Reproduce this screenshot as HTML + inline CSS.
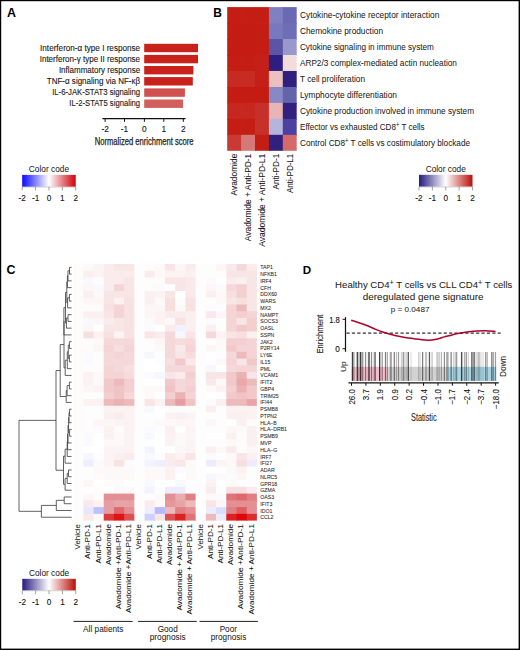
<!DOCTYPE html>
<html><head><meta charset="utf-8"><style>html,body{margin:0;padding:0;background:#fff;width:520px;height:650px;overflow:hidden}</style></head><body>
<svg width="520" height="650" viewBox="0 0 520 650" style="display:block;font-family:'Liberation Sans', sans-serif">
<defs>
<linearGradient id="gA" x1="0" x2="1" y1="0" y2="0"><stop offset="0" stop-color="#0a0aff"/><stop offset="0.5" stop-color="#ffffff"/><stop offset="1" stop-color="#d00008"/></linearGradient>
<linearGradient id="gB" x1="0" x2="1" y1="0" y2="0"><stop offset="0" stop-color="#251a80"/><stop offset="0.5" stop-color="#ffffff"/><stop offset="1" stop-color="#b80f0a"/></linearGradient>
</defs>
<rect x="0" y="0" width="520" height="650" fill="#fff"/>
<text x="7.00" y="17.00" font-size="12.4" font-weight="bold" fill="#000" >A</text>
<text x="213.30" y="16.90" font-size="12.0" font-weight="bold" fill="#000" >B</text>
<text x="6.50" y="273.80" font-size="12.4" font-weight="bold" fill="#000" >C</text>
<text x="302.80" y="273.80" font-size="11.6" font-weight="bold" fill="#000" >D</text>
<text x="140.10" y="50.50" font-size="8.3" text-anchor="end" textLength="100.00" lengthAdjust="spacingAndGlyphs" fill="#1a1a1a" stroke="#1a1a1a" stroke-width="0.12" >Interferon-α type I response</text>
<rect x="144.2" y="43.8" width="53.80" height="8.4" fill="#c8221b"/>
<text x="140.10" y="61.60" font-size="8.3" text-anchor="end" textLength="100.40" lengthAdjust="spacingAndGlyphs" fill="#1a1a1a" stroke="#1a1a1a" stroke-width="0.12" >Interferon-γ type II response</text>
<rect x="144.2" y="54.9" width="53.80" height="8.4" fill="#c8221b"/>
<text x="140.10" y="72.70" font-size="8.3" text-anchor="end" textLength="81.20" lengthAdjust="spacingAndGlyphs" fill="#1a1a1a" stroke="#1a1a1a" stroke-width="0.12" >Inflammatory response</text>
<rect x="144.2" y="66.0" width="49.20" height="8.4" fill="#c8221b"/>
<text x="140.10" y="83.80" font-size="8.3" text-anchor="end" textLength="93.30" lengthAdjust="spacingAndGlyphs" fill="#1a1a1a" stroke="#1a1a1a" stroke-width="0.12" >TNF-α signaling via NF-κβ</text>
<rect x="144.2" y="77.1" width="48.60" height="8.4" fill="#c8221b"/>
<text x="140.10" y="95.10" font-size="8.3" text-anchor="end" textLength="87.90" lengthAdjust="spacingAndGlyphs" fill="#1a1a1a" stroke="#1a1a1a" stroke-width="0.12" >IL-6-JAK-STAT3 signaling</text>
<rect x="144.2" y="88.4" width="40.70" height="8.4" fill="#d0514f"/>
<text x="140.10" y="106.20" font-size="8.3" text-anchor="end" textLength="70.80" lengthAdjust="spacingAndGlyphs" fill="#1a1a1a" stroke="#1a1a1a" stroke-width="0.12" >IL-2-STAT5 signaling</text>
<rect x="144.2" y="99.5" width="38.90" height="8.4" fill="#d35e5e"/>
<line x1="102.4" y1="118.7" x2="185.6" y2="118.7" stroke="#111" stroke-width="1.2"/>
<line x1="105.1" y1="118.7" x2="105.1" y2="121.8" stroke="#111" stroke-width="1"/>
<text x="105.10" y="131.60" font-size="8.3" text-anchor="middle" fill="#111" stroke="#111" stroke-width="0.1" >-2</text>
<line x1="124.5" y1="118.7" x2="124.5" y2="121.8" stroke="#111" stroke-width="1"/>
<text x="124.50" y="131.60" font-size="8.3" text-anchor="middle" fill="#111" stroke="#111" stroke-width="0.1" >-1</text>
<line x1="144.4" y1="118.7" x2="144.4" y2="121.8" stroke="#111" stroke-width="1"/>
<text x="144.40" y="131.60" font-size="8.3" text-anchor="middle" fill="#111" stroke="#111" stroke-width="0.1" >0</text>
<line x1="163.8" y1="118.7" x2="163.8" y2="121.8" stroke="#111" stroke-width="1"/>
<text x="163.80" y="131.60" font-size="8.3" text-anchor="middle" fill="#111" stroke="#111" stroke-width="0.1" >1</text>
<line x1="183.3" y1="118.7" x2="183.3" y2="121.8" stroke="#111" stroke-width="1"/>
<text x="183.30" y="131.60" font-size="8.3" text-anchor="middle" fill="#111" stroke="#111" stroke-width="0.1" >2</text>
<text x="144.15" y="145.20" font-size="10.0" text-anchor="middle" textLength="98.90" lengthAdjust="spacingAndGlyphs" fill="#222" stroke="#222" stroke-width="0.25" >Normalized enrichment score</text>
<rect x="22.2" y="174.9" width="53.5" height="11.900000000000006" fill="url(#gA)"/>
<line x1="22.2" y1="187.10000000000002" x2="75.7" y2="187.10000000000002" stroke="#bbb" stroke-width="0.6"/>
<line x1="22.20" y1="186.8" x2="22.20" y2="190.60000000000002" stroke="#666" stroke-width="0.6"/>
<line x1="35.58" y1="186.8" x2="35.58" y2="190.60000000000002" stroke="#666" stroke-width="0.6"/>
<line x1="48.95" y1="186.8" x2="48.95" y2="190.60000000000002" stroke="#666" stroke-width="0.6"/>
<line x1="62.33" y1="186.8" x2="62.33" y2="190.60000000000002" stroke="#666" stroke-width="0.6"/>
<line x1="75.70" y1="186.8" x2="75.70" y2="190.60000000000002" stroke="#666" stroke-width="0.6"/>
<text x="48.95" y="172.20" font-size="8.6" text-anchor="middle" textLength="40.20" lengthAdjust="spacingAndGlyphs" fill="#222" stroke="#222" stroke-width="0.04" >Color code</text>
<text x="22.20" y="200.80" font-size="8.2" text-anchor="middle" fill="#111" stroke="#111" stroke-width="0.1" >-2</text>
<text x="35.58" y="200.80" font-size="8.2" text-anchor="middle" fill="#111" stroke="#111" stroke-width="0.1" >-1</text>
<text x="48.95" y="200.80" font-size="8.2" text-anchor="middle" fill="#111" stroke="#111" stroke-width="0.1" >0</text>
<text x="62.33" y="200.80" font-size="8.2" text-anchor="middle" fill="#111" stroke="#111" stroke-width="0.1" >1</text>
<text x="75.70" y="200.80" font-size="8.2" text-anchor="middle" fill="#111" stroke="#111" stroke-width="0.1" >2</text>
<rect x="227.20" y="7.10" width="14.70" height="16.77" fill="#c41e14"/>
<rect x="241.10" y="7.10" width="14.70" height="16.77" fill="#c41e14"/>
<rect x="255.00" y="7.10" width="14.70" height="16.77" fill="#c41e14"/>
<rect x="268.90" y="7.10" width="14.70" height="16.77" fill="#8080c0"/>
<rect x="282.80" y="7.10" width="13.90" height="16.77" fill="#6a6ab4"/>
<rect x="227.20" y="23.07" width="14.70" height="16.77" fill="#c41c12"/>
<rect x="241.10" y="23.07" width="14.70" height="16.77" fill="#c41c12"/>
<rect x="255.00" y="23.07" width="14.70" height="16.77" fill="#c41e14"/>
<rect x="268.90" y="23.07" width="14.70" height="16.77" fill="#7878be"/>
<rect x="282.80" y="23.07" width="13.90" height="16.77" fill="#6e6eb6"/>
<rect x="227.20" y="39.03" width="14.70" height="16.77" fill="#c41c12"/>
<rect x="241.10" y="39.03" width="14.70" height="16.77" fill="#c41c12"/>
<rect x="255.00" y="39.03" width="14.70" height="16.77" fill="#c41e14"/>
<rect x="268.90" y="39.03" width="14.70" height="16.77" fill="#5c54a4"/>
<rect x="282.80" y="39.03" width="13.90" height="16.77" fill="#9898cc"/>
<rect x="227.20" y="55.00" width="14.70" height="16.77" fill="#c41e14"/>
<rect x="241.10" y="55.00" width="14.70" height="16.77" fill="#c41e14"/>
<rect x="255.00" y="55.00" width="14.70" height="16.77" fill="#c42018"/>
<rect x="268.90" y="55.00" width="14.70" height="16.77" fill="#2e1e82"/>
<rect x="282.80" y="55.00" width="13.90" height="16.77" fill="#f2dcdc"/>
<rect x="227.20" y="70.97" width="14.70" height="16.77" fill="#c62a20"/>
<rect x="241.10" y="70.97" width="14.70" height="16.77" fill="#c62c22"/>
<rect x="255.00" y="70.97" width="14.70" height="16.77" fill="#c42018"/>
<rect x="268.90" y="70.97" width="14.70" height="16.77" fill="#ecc0be"/>
<rect x="282.80" y="70.97" width="13.90" height="16.77" fill="#30207e"/>
<rect x="227.20" y="86.93" width="14.70" height="16.77" fill="#c41c12"/>
<rect x="241.10" y="86.93" width="14.70" height="16.77" fill="#c41c12"/>
<rect x="255.00" y="86.93" width="14.70" height="16.77" fill="#c41c12"/>
<rect x="268.90" y="86.93" width="14.70" height="16.77" fill="#8888c4"/>
<rect x="282.80" y="86.93" width="13.90" height="16.77" fill="#6464aa"/>
<rect x="227.20" y="102.90" width="14.70" height="16.77" fill="#c62820"/>
<rect x="241.10" y="102.90" width="14.70" height="16.77" fill="#c62820"/>
<rect x="255.00" y="102.90" width="14.70" height="16.77" fill="#c6302a"/>
<rect x="268.90" y="102.90" width="14.70" height="16.77" fill="#e8b4b4"/>
<rect x="282.80" y="102.90" width="13.90" height="16.77" fill="#32207e"/>
<rect x="227.20" y="118.87" width="14.70" height="16.77" fill="#c41e14"/>
<rect x="241.10" y="118.87" width="14.70" height="16.77" fill="#c41e14"/>
<rect x="255.00" y="118.87" width="14.70" height="16.77" fill="#c8302a"/>
<rect x="268.90" y="118.87" width="14.70" height="16.77" fill="#b4b4dc"/>
<rect x="282.80" y="118.87" width="13.90" height="16.77" fill="#4c40a0"/>
<rect x="227.20" y="134.83" width="14.70" height="15.97" fill="#ca3a34"/>
<rect x="241.10" y="134.83" width="14.70" height="15.97" fill="#d47878"/>
<rect x="255.00" y="134.83" width="14.70" height="15.97" fill="#c41e14"/>
<rect x="268.90" y="134.83" width="14.70" height="15.97" fill="#32207e"/>
<rect x="282.80" y="134.83" width="13.90" height="15.97" fill="#d46a6a"/>
<text x="300.00" y="18.08" font-size="9.0" textLength="139.30" lengthAdjust="spacingAndGlyphs" fill="#1a1a1a" stroke="#1a1a1a" stroke-width="0.04" >Cytokine-cytokine receptor interaction</text>
<text x="300.00" y="34.05" font-size="9.0" textLength="83.00" lengthAdjust="spacingAndGlyphs" fill="#1a1a1a" stroke="#1a1a1a" stroke-width="0.04" >Chemokine production</text>
<text x="300.00" y="50.02" font-size="9.0" textLength="133.80" lengthAdjust="spacingAndGlyphs" fill="#1a1a1a" stroke="#1a1a1a" stroke-width="0.04" >Cytokine signaling in immune system</text>
<text x="300.00" y="65.98" font-size="9.0" textLength="156.90" lengthAdjust="spacingAndGlyphs" fill="#1a1a1a" stroke="#1a1a1a" stroke-width="0.04" >ARP2/3 complex-mediated actin nucleation</text>
<text x="300.00" y="81.95" font-size="9.0" textLength="65.00" lengthAdjust="spacingAndGlyphs" fill="#1a1a1a" stroke="#1a1a1a" stroke-width="0.04" >T cell proliferation</text>
<text x="300.00" y="97.92" font-size="9.0" textLength="97.00" lengthAdjust="spacingAndGlyphs" fill="#1a1a1a" stroke="#1a1a1a" stroke-width="0.04" >Lymphocyte differentiation</text>
<text x="300.00" y="113.88" font-size="9.0" textLength="174.00" lengthAdjust="spacingAndGlyphs" fill="#1a1a1a" stroke="#1a1a1a" stroke-width="0.04" >Cytokine production involved in immune system</text>
<text x="300" y="129.85" font-size="9.0" fill="#1a1a1a" stroke="#1a1a1a" stroke-width="0.04" textLength="124.60" lengthAdjust="spacingAndGlyphs">Effector vs exhausted CD8<tspan font-size="6.5" dy="-3.2">+</tspan><tspan dy="3.2"> T cells</tspan></text>
<text x="300" y="145.82" font-size="9.0" fill="#1a1a1a" stroke="#1a1a1a" stroke-width="0.04" textLength="170.00" lengthAdjust="spacingAndGlyphs">Control CD8<tspan font-size="6.5" dy="-3.2">+</tspan><tspan dy="3.2"> T cells vs costimulatory blockade</tspan></text>
<text transform="translate(237.05,153.70) rotate(-90)" font-size="8.2" text-anchor="end" textLength="41.70" lengthAdjust="spacingAndGlyphs" fill="#111" stroke="#111" stroke-width="0.04" >Avadomide</text>
<text transform="translate(250.95,153.70) rotate(-90)" font-size="8.2" text-anchor="end" textLength="87.50" lengthAdjust="spacingAndGlyphs" fill="#111" stroke="#111" stroke-width="0.04" >Avadomide + Anti-PD-1</text>
<text transform="translate(264.85,153.70) rotate(-90)" font-size="8.2" text-anchor="end" textLength="93.00" lengthAdjust="spacingAndGlyphs" fill="#111" stroke="#111" stroke-width="0.04" >Avadomide + Anti-PD-L1</text>
<text transform="translate(278.75,153.70) rotate(-90)" font-size="8.2" text-anchor="end" textLength="35.90" lengthAdjust="spacingAndGlyphs" fill="#111" stroke="#111" stroke-width="0.04" >Anti-PD-1</text>
<text transform="translate(292.65,153.70) rotate(-90)" font-size="8.2" text-anchor="end" textLength="39.30" lengthAdjust="spacingAndGlyphs" fill="#111" stroke="#111" stroke-width="0.04" >Anti-PD-L1</text>
<rect x="419.0" y="174.8" width="53.5" height="11.899999999999977" fill="url(#gB)"/>
<line x1="419.0" y1="187.0" x2="472.5" y2="187.0" stroke="#bbb" stroke-width="0.6"/>
<line x1="419.00" y1="186.7" x2="419.00" y2="190.5" stroke="#666" stroke-width="0.6"/>
<line x1="432.38" y1="186.7" x2="432.38" y2="190.5" stroke="#666" stroke-width="0.6"/>
<line x1="445.75" y1="186.7" x2="445.75" y2="190.5" stroke="#666" stroke-width="0.6"/>
<line x1="459.12" y1="186.7" x2="459.12" y2="190.5" stroke="#666" stroke-width="0.6"/>
<line x1="472.50" y1="186.7" x2="472.50" y2="190.5" stroke="#666" stroke-width="0.6"/>
<text x="445.75" y="172.20" font-size="8.6" text-anchor="middle" textLength="40.20" lengthAdjust="spacingAndGlyphs" fill="#222" stroke="#222" stroke-width="0.04" >Color code</text>
<text x="419.00" y="201.00" font-size="8.2" text-anchor="middle" fill="#111" stroke="#111" stroke-width="0.1" >-2</text>
<text x="432.38" y="201.00" font-size="8.2" text-anchor="middle" fill="#111" stroke="#111" stroke-width="0.1" >-1</text>
<text x="445.75" y="201.00" font-size="8.2" text-anchor="middle" fill="#111" stroke="#111" stroke-width="0.1" >0</text>
<text x="459.12" y="201.00" font-size="8.2" text-anchor="middle" fill="#111" stroke="#111" stroke-width="0.1" >1</text>
<text x="472.50" y="201.00" font-size="8.2" text-anchor="middle" fill="#111" stroke="#111" stroke-width="0.1" >2</text>
<rect x="73.10" y="264.00" width="11.01" height="7.55" fill="#fefbfb"/>
<rect x="83.31" y="264.00" width="11.01" height="7.55" fill="#fdf9f9"/>
<rect x="93.52" y="264.00" width="11.01" height="7.55" fill="#fcf4f4"/>
<rect x="103.73" y="264.00" width="11.01" height="7.55" fill="#faecec"/>
<rect x="113.94" y="264.00" width="11.01" height="7.55" fill="#f8e5e6"/>
<rect x="124.16" y="264.00" width="11.01" height="7.55" fill="#f8e5e6"/>
<rect x="73.10" y="270.75" width="11.01" height="7.55" fill="#fefbfb"/>
<rect x="83.31" y="270.75" width="11.01" height="7.55" fill="#fbf0f0"/>
<rect x="93.52" y="270.75" width="11.01" height="7.55" fill="#fcf4f4"/>
<rect x="103.73" y="270.75" width="11.01" height="7.55" fill="#faecec"/>
<rect x="113.94" y="270.75" width="11.01" height="7.55" fill="#faecec"/>
<rect x="124.16" y="270.75" width="11.01" height="7.55" fill="#faecec"/>
<rect x="73.10" y="277.51" width="11.01" height="7.55" fill="#fefbfb"/>
<rect x="83.31" y="277.51" width="11.01" height="7.55" fill="#f8f8ff"/>
<rect x="93.52" y="277.51" width="11.01" height="7.55" fill="#fefdfd"/>
<rect x="103.73" y="277.51" width="11.01" height="7.55" fill="#faecec"/>
<rect x="113.94" y="277.51" width="11.01" height="7.55" fill="#faecec"/>
<rect x="124.16" y="277.51" width="11.01" height="7.55" fill="#f8e5e6"/>
<rect x="73.10" y="284.26" width="11.01" height="7.55" fill="#fefbfb"/>
<rect x="83.31" y="284.26" width="11.01" height="7.55" fill="#fdf6f7"/>
<rect x="93.52" y="284.26" width="11.01" height="7.55" fill="#f8f8ff"/>
<rect x="103.73" y="284.26" width="11.01" height="7.55" fill="#faecec"/>
<rect x="113.94" y="284.26" width="11.01" height="7.55" fill="#f4d4d5"/>
<rect x="124.16" y="284.26" width="11.01" height="7.55" fill="#f8e5e6"/>
<rect x="73.10" y="291.01" width="11.01" height="7.55" fill="#fefbfb"/>
<rect x="83.31" y="291.01" width="11.01" height="7.55" fill="#fbf0f0"/>
<rect x="93.52" y="291.01" width="11.01" height="7.55" fill="#fdf9f9"/>
<rect x="103.73" y="291.01" width="11.01" height="7.55" fill="#f8e5e6"/>
<rect x="113.94" y="291.01" width="11.01" height="7.55" fill="#f8e5e6"/>
<rect x="124.16" y="291.01" width="11.01" height="7.55" fill="#f8e5e6"/>
<rect x="73.10" y="297.76" width="11.01" height="7.55" fill="#fefbfb"/>
<rect x="83.31" y="297.76" width="11.01" height="7.55" fill="#fdf6f7"/>
<rect x="93.52" y="297.76" width="11.01" height="7.55" fill="#fdf6f7"/>
<rect x="103.73" y="297.76" width="11.01" height="7.55" fill="#f8e5e6"/>
<rect x="113.94" y="297.76" width="11.01" height="7.55" fill="#fcf2f2"/>
<rect x="124.16" y="297.76" width="11.01" height="7.55" fill="#f7e1e1"/>
<rect x="73.10" y="304.52" width="11.01" height="7.55" fill="#fefbfb"/>
<rect x="83.31" y="304.52" width="11.01" height="7.55" fill="#fefbfb"/>
<rect x="93.52" y="304.52" width="11.01" height="7.55" fill="#fefbfb"/>
<rect x="103.73" y="304.52" width="11.01" height="7.55" fill="#f7e1e1"/>
<rect x="113.94" y="304.52" width="11.01" height="7.55" fill="#f4d4d5"/>
<rect x="124.16" y="304.52" width="11.01" height="7.55" fill="#f7e1e1"/>
<rect x="73.10" y="311.27" width="11.01" height="7.55" fill="#fefbfb"/>
<rect x="83.31" y="311.27" width="11.01" height="7.55" fill="#fbf0f0"/>
<rect x="93.52" y="311.27" width="11.01" height="7.55" fill="#fbf0f0"/>
<rect x="103.73" y="311.27" width="11.01" height="7.55" fill="#f8e5e6"/>
<rect x="113.94" y="311.27" width="11.01" height="7.55" fill="#f4d4d5"/>
<rect x="124.16" y="311.27" width="11.01" height="7.55" fill="#f7e1e1"/>
<rect x="73.10" y="318.02" width="11.01" height="7.55" fill="#fefbfb"/>
<rect x="83.31" y="318.02" width="11.01" height="7.55" fill="#f8f8ff"/>
<rect x="93.52" y="318.02" width="11.01" height="7.55" fill="#fdf6f7"/>
<rect x="103.73" y="318.02" width="11.01" height="7.55" fill="#faecec"/>
<rect x="113.94" y="318.02" width="11.01" height="7.55" fill="#f8e5e6"/>
<rect x="124.16" y="318.02" width="11.01" height="7.55" fill="#f7e1e1"/>
<rect x="73.10" y="324.77" width="11.01" height="7.55" fill="#fefbfb"/>
<rect x="83.31" y="324.77" width="11.01" height="7.55" fill="#fdf6f7"/>
<rect x="93.52" y="324.77" width="11.01" height="7.55" fill="#ffffff"/>
<rect x="103.73" y="324.77" width="11.01" height="7.55" fill="#f8e5e6"/>
<rect x="113.94" y="324.77" width="11.01" height="7.55" fill="#f8e5e6"/>
<rect x="124.16" y="324.77" width="11.01" height="7.55" fill="#f7e1e1"/>
<rect x="73.10" y="331.53" width="11.01" height="7.55" fill="#fefbfb"/>
<rect x="83.31" y="331.53" width="11.01" height="7.55" fill="#f7dfdf"/>
<rect x="93.52" y="331.53" width="11.01" height="7.55" fill="#fcf2f2"/>
<rect x="103.73" y="331.53" width="11.01" height="7.55" fill="#f7e1e1"/>
<rect x="113.94" y="331.53" width="11.01" height="7.55" fill="#fcf4f4"/>
<rect x="124.16" y="331.53" width="11.01" height="7.55" fill="#f7e1e1"/>
<rect x="73.10" y="338.28" width="11.01" height="7.55" fill="#fefbfb"/>
<rect x="83.31" y="338.28" width="11.01" height="7.55" fill="#fefbfb"/>
<rect x="93.52" y="338.28" width="11.01" height="7.55" fill="#fdf9f9"/>
<rect x="103.73" y="338.28" width="11.01" height="7.55" fill="#f5d8d9"/>
<rect x="113.94" y="338.28" width="11.01" height="7.55" fill="#f5d8d9"/>
<rect x="124.16" y="338.28" width="11.01" height="7.55" fill="#f5d8d9"/>
<rect x="73.10" y="345.03" width="11.01" height="7.55" fill="#fefbfb"/>
<rect x="83.31" y="345.03" width="11.01" height="7.55" fill="#fefbfb"/>
<rect x="93.52" y="345.03" width="11.01" height="7.55" fill="#fdf6f7"/>
<rect x="103.73" y="345.03" width="11.01" height="7.55" fill="#f4d4d5"/>
<rect x="113.94" y="345.03" width="11.01" height="7.55" fill="#f7dfdf"/>
<rect x="124.16" y="345.03" width="11.01" height="7.55" fill="#f4d4d5"/>
<rect x="73.10" y="351.78" width="11.01" height="7.55" fill="#fefbfb"/>
<rect x="83.31" y="351.78" width="11.01" height="7.55" fill="#fafaff"/>
<rect x="93.52" y="351.78" width="11.01" height="7.55" fill="#fefdfd"/>
<rect x="103.73" y="351.78" width="11.01" height="7.55" fill="#f5d8d9"/>
<rect x="113.94" y="351.78" width="11.01" height="7.55" fill="#f4d4d5"/>
<rect x="124.16" y="351.78" width="11.01" height="7.55" fill="#f5d8d9"/>
<rect x="73.10" y="358.54" width="11.01" height="7.55" fill="#fefbfb"/>
<rect x="83.31" y="358.54" width="11.01" height="7.55" fill="#fafaff"/>
<rect x="93.52" y="358.54" width="11.01" height="7.55" fill="#fefdfd"/>
<rect x="103.73" y="358.54" width="11.01" height="7.55" fill="#f5d8d9"/>
<rect x="113.94" y="358.54" width="11.01" height="7.55" fill="#f5d8d9"/>
<rect x="124.16" y="358.54" width="11.01" height="7.55" fill="#f5d8d9"/>
<rect x="73.10" y="365.29" width="11.01" height="7.55" fill="#fefbfb"/>
<rect x="83.31" y="365.29" width="11.01" height="7.55" fill="#fdfdff"/>
<rect x="93.52" y="365.29" width="11.01" height="7.55" fill="#fefdfd"/>
<rect x="103.73" y="365.29" width="11.01" height="7.55" fill="#f4d4d5"/>
<rect x="113.94" y="365.29" width="11.01" height="7.55" fill="#f5d8d9"/>
<rect x="124.16" y="365.29" width="11.01" height="7.55" fill="#f7dfdf"/>
<rect x="73.10" y="372.04" width="11.01" height="7.55" fill="#fefbfb"/>
<rect x="83.31" y="372.04" width="11.01" height="7.55" fill="#fcf2f2"/>
<rect x="93.52" y="372.04" width="11.01" height="7.55" fill="#fdf9f9"/>
<rect x="103.73" y="372.04" width="11.01" height="7.55" fill="#f4d4d5"/>
<rect x="113.94" y="372.04" width="11.01" height="7.55" fill="#f4d4d5"/>
<rect x="124.16" y="372.04" width="11.01" height="7.55" fill="#f6dcdd"/>
<rect x="73.10" y="378.79" width="11.01" height="7.55" fill="#fefbfb"/>
<rect x="83.31" y="378.79" width="11.01" height="7.55" fill="#fcf2f2"/>
<rect x="93.52" y="378.79" width="11.01" height="7.55" fill="#fdf9f9"/>
<rect x="103.73" y="378.79" width="11.01" height="7.55" fill="#f1c9ca"/>
<rect x="113.94" y="378.79" width="11.01" height="7.55" fill="#edbabc"/>
<rect x="124.16" y="378.79" width="11.01" height="7.55" fill="#f3cfd0"/>
<rect x="73.10" y="385.55" width="11.01" height="7.55" fill="#fefbfb"/>
<rect x="83.31" y="385.55" width="11.01" height="7.55" fill="#fdf6f7"/>
<rect x="93.52" y="385.55" width="11.01" height="7.55" fill="#fcf2f2"/>
<rect x="103.73" y="385.55" width="11.01" height="7.55" fill="#f1c9ca"/>
<rect x="113.94" y="385.55" width="11.01" height="7.55" fill="#f0c3c4"/>
<rect x="124.16" y="385.55" width="11.01" height="7.55" fill="#f3cfd0"/>
<rect x="73.10" y="392.30" width="11.01" height="7.55" fill="#fefbfb"/>
<rect x="83.31" y="392.30" width="11.01" height="7.55" fill="#fefdfd"/>
<rect x="93.52" y="392.30" width="11.01" height="7.55" fill="#fefdfd"/>
<rect x="103.73" y="392.30" width="11.01" height="7.55" fill="#f3cfd0"/>
<rect x="113.94" y="392.30" width="11.01" height="7.55" fill="#f0c3c4"/>
<rect x="124.16" y="392.30" width="11.01" height="7.55" fill="#f5d8d9"/>
<rect x="73.10" y="399.05" width="11.01" height="7.55" fill="#fefbfb"/>
<rect x="83.31" y="399.05" width="11.01" height="7.55" fill="#fcf2f2"/>
<rect x="93.52" y="399.05" width="11.01" height="7.55" fill="#fcf2f2"/>
<rect x="103.73" y="399.05" width="11.01" height="7.55" fill="#edbabc"/>
<rect x="113.94" y="399.05" width="11.01" height="7.55" fill="#ebb2b4"/>
<rect x="124.16" y="399.05" width="11.01" height="7.55" fill="#edbabc"/>
<rect x="73.10" y="405.81" width="11.01" height="7.55" fill="#fefbfb"/>
<rect x="83.31" y="405.81" width="11.01" height="7.55" fill="#fefdfd"/>
<rect x="93.52" y="405.81" width="11.01" height="7.55" fill="#fefdfd"/>
<rect x="103.73" y="405.81" width="11.01" height="7.55" fill="#fcf2f2"/>
<rect x="113.94" y="405.81" width="11.01" height="7.55" fill="#fcf2f2"/>
<rect x="124.16" y="405.81" width="11.01" height="7.55" fill="#fcf2f2"/>
<rect x="73.10" y="412.56" width="11.01" height="7.55" fill="#fefbfb"/>
<rect x="83.31" y="412.56" width="11.01" height="7.55" fill="#fefdfd"/>
<rect x="93.52" y="412.56" width="11.01" height="7.55" fill="#fefdfd"/>
<rect x="103.73" y="412.56" width="11.01" height="7.55" fill="#fbf0f0"/>
<rect x="113.94" y="412.56" width="11.01" height="7.55" fill="#faecec"/>
<rect x="124.16" y="412.56" width="11.01" height="7.55" fill="#fcf2f2"/>
<rect x="73.10" y="419.31" width="11.01" height="7.55" fill="#fefbfb"/>
<rect x="83.31" y="419.31" width="11.01" height="7.55" fill="#fefdfd"/>
<rect x="93.52" y="419.31" width="11.01" height="7.55" fill="#fdf6f7"/>
<rect x="103.73" y="419.31" width="11.01" height="7.55" fill="#fdf6f7"/>
<rect x="113.94" y="419.31" width="11.01" height="7.55" fill="#fcf4f4"/>
<rect x="124.16" y="419.31" width="11.01" height="7.55" fill="#fcf2f2"/>
<rect x="73.10" y="426.06" width="11.01" height="7.55" fill="#fefbfb"/>
<rect x="83.31" y="426.06" width="11.01" height="7.55" fill="#fefdfd"/>
<rect x="93.52" y="426.06" width="11.01" height="7.55" fill="#fafaff"/>
<rect x="103.73" y="426.06" width="11.01" height="7.55" fill="#fcf2f2"/>
<rect x="113.94" y="426.06" width="11.01" height="7.55" fill="#fefbfb"/>
<rect x="124.16" y="426.06" width="11.01" height="7.55" fill="#fcf2f2"/>
<rect x="73.10" y="432.82" width="11.01" height="7.55" fill="#fefdfd"/>
<rect x="83.31" y="432.82" width="11.01" height="7.55" fill="#fafaff"/>
<rect x="93.52" y="432.82" width="11.01" height="7.55" fill="#ffffff"/>
<rect x="103.73" y="432.82" width="11.01" height="7.55" fill="#fcf2f2"/>
<rect x="113.94" y="432.82" width="11.01" height="7.55" fill="#fdf9f9"/>
<rect x="124.16" y="432.82" width="11.01" height="7.55" fill="#fcf4f4"/>
<rect x="73.10" y="439.57" width="11.01" height="7.55" fill="#fefdfd"/>
<rect x="83.31" y="439.57" width="11.01" height="7.55" fill="#fafaff"/>
<rect x="93.52" y="439.57" width="11.01" height="7.55" fill="#ffffff"/>
<rect x="103.73" y="439.57" width="11.01" height="7.55" fill="#fdf9f9"/>
<rect x="113.94" y="439.57" width="11.01" height="7.55" fill="#fdf9f9"/>
<rect x="124.16" y="439.57" width="11.01" height="7.55" fill="#fcf4f4"/>
<rect x="73.10" y="446.32" width="11.01" height="7.55" fill="#fefdfd"/>
<rect x="83.31" y="446.32" width="11.01" height="7.55" fill="#ffffff"/>
<rect x="93.52" y="446.32" width="11.01" height="7.55" fill="#ffffff"/>
<rect x="103.73" y="446.32" width="11.01" height="7.55" fill="#fcf4f4"/>
<rect x="113.94" y="446.32" width="11.01" height="7.55" fill="#fcf4f4"/>
<rect x="124.16" y="446.32" width="11.01" height="7.55" fill="#fcf4f4"/>
<rect x="73.10" y="453.07" width="11.01" height="7.55" fill="#fefdfd"/>
<rect x="83.31" y="453.07" width="11.01" height="7.55" fill="#f6f6ff"/>
<rect x="93.52" y="453.07" width="11.01" height="7.55" fill="#fdfdff"/>
<rect x="103.73" y="453.07" width="11.01" height="7.55" fill="#fcf4f4"/>
<rect x="113.94" y="453.07" width="11.01" height="7.55" fill="#fbf0f0"/>
<rect x="124.16" y="453.07" width="11.01" height="7.55" fill="#faecec"/>
<rect x="73.10" y="459.83" width="11.01" height="7.55" fill="#fefdfd"/>
<rect x="83.31" y="459.83" width="11.01" height="7.55" fill="#eeeeff"/>
<rect x="93.52" y="459.83" width="11.01" height="7.55" fill="#fafaff"/>
<rect x="103.73" y="459.83" width="11.01" height="7.55" fill="#fcf4f4"/>
<rect x="113.94" y="459.83" width="11.01" height="7.55" fill="#f8e3e3"/>
<rect x="124.16" y="459.83" width="11.01" height="7.55" fill="#fafaff"/>
<rect x="73.10" y="466.58" width="11.01" height="7.55" fill="#fefdfd"/>
<rect x="83.31" y="466.58" width="11.01" height="7.55" fill="#fefdfd"/>
<rect x="93.52" y="466.58" width="11.01" height="7.55" fill="#fdf9f9"/>
<rect x="103.73" y="466.58" width="11.01" height="7.55" fill="#fdf9f9"/>
<rect x="113.94" y="466.58" width="11.01" height="7.55" fill="#fdf9f9"/>
<rect x="124.16" y="466.58" width="11.01" height="7.55" fill="#fdf9f9"/>
<rect x="73.10" y="473.33" width="11.01" height="7.55" fill="#fefdfd"/>
<rect x="83.31" y="473.33" width="11.01" height="7.55" fill="#fefdfd"/>
<rect x="93.52" y="473.33" width="11.01" height="7.55" fill="#fefbfb"/>
<rect x="103.73" y="473.33" width="11.01" height="7.55" fill="#fdf9f9"/>
<rect x="113.94" y="473.33" width="11.01" height="7.55" fill="#fdf9f9"/>
<rect x="124.16" y="473.33" width="11.01" height="7.55" fill="#fdf9f9"/>
<rect x="73.10" y="480.08" width="11.01" height="7.55" fill="#fefdfd"/>
<rect x="83.31" y="480.08" width="11.01" height="7.55" fill="#fdf6f7"/>
<rect x="93.52" y="480.08" width="11.01" height="7.55" fill="#ffffff"/>
<rect x="103.73" y="480.08" width="11.01" height="7.55" fill="#fefbfb"/>
<rect x="113.94" y="480.08" width="11.01" height="7.55" fill="#fafaff"/>
<rect x="124.16" y="480.08" width="11.01" height="7.55" fill="#ffffff"/>
<rect x="73.10" y="486.84" width="11.01" height="7.55" fill="#fefdfd"/>
<rect x="83.31" y="486.84" width="11.01" height="7.55" fill="#ffffff"/>
<rect x="93.52" y="486.84" width="11.01" height="7.55" fill="#fdfdff"/>
<rect x="103.73" y="486.84" width="11.01" height="7.55" fill="#ffffff"/>
<rect x="113.94" y="486.84" width="11.01" height="7.55" fill="#fdf9f9"/>
<rect x="124.16" y="486.84" width="11.01" height="7.55" fill="#fdf9f9"/>
<rect x="73.10" y="493.59" width="11.01" height="7.55" fill="#fefdfd"/>
<rect x="83.31" y="493.59" width="11.01" height="7.55" fill="#fdf6f7"/>
<rect x="93.52" y="493.59" width="11.01" height="7.55" fill="#fefbfb"/>
<rect x="103.73" y="493.59" width="11.01" height="7.55" fill="#e38f93"/>
<rect x="113.94" y="493.59" width="11.01" height="7.55" fill="#e38f93"/>
<rect x="124.16" y="493.59" width="11.01" height="7.55" fill="#e38f93"/>
<rect x="73.10" y="500.34" width="11.01" height="7.55" fill="#fefdfd"/>
<rect x="83.31" y="500.34" width="11.01" height="7.55" fill="#f9e9ea"/>
<rect x="93.52" y="500.34" width="11.01" height="7.55" fill="#fcf2f2"/>
<rect x="103.73" y="500.34" width="11.01" height="7.55" fill="#e69da1"/>
<rect x="113.94" y="500.34" width="11.01" height="7.55" fill="#e8a3a6"/>
<rect x="124.16" y="500.34" width="11.01" height="7.55" fill="#e8a3a6"/>
<rect x="73.10" y="507.09" width="11.01" height="7.55" fill="#fefdfd"/>
<rect x="83.31" y="507.09" width="11.01" height="7.55" fill="#e7e7ff"/>
<rect x="93.52" y="507.09" width="11.01" height="7.55" fill="#bfbfff"/>
<rect x="103.73" y="507.09" width="11.01" height="7.55" fill="#e69da1"/>
<rect x="113.94" y="507.09" width="11.01" height="7.55" fill="#df686c"/>
<rect x="124.16" y="507.09" width="11.01" height="7.55" fill="#e38f93"/>
<rect x="73.10" y="513.85" width="11.01" height="6.75" fill="#fefdfd"/>
<rect x="83.31" y="513.85" width="11.01" height="6.75" fill="#f9e9ea"/>
<rect x="93.52" y="513.85" width="11.01" height="6.75" fill="#fdf9f9"/>
<rect x="103.73" y="513.85" width="11.01" height="6.75" fill="#de383a"/>
<rect x="113.94" y="513.85" width="11.01" height="6.75" fill="#de1415"/>
<rect x="124.16" y="513.85" width="11.01" height="6.75" fill="#df5053"/>
<rect x="134.37" y="264.00" width="11.01" height="7.55" fill="#fefdfd"/>
<rect x="144.58" y="264.00" width="11.01" height="7.55" fill="#fefbfb"/>
<rect x="154.79" y="264.00" width="11.01" height="7.55" fill="#fdf9f9"/>
<rect x="165.00" y="264.00" width="11.01" height="7.55" fill="#f8e5e6"/>
<rect x="175.21" y="264.00" width="11.01" height="7.55" fill="#fdf6f7"/>
<rect x="185.42" y="264.00" width="11.01" height="7.55" fill="#faecec"/>
<rect x="134.37" y="270.75" width="11.01" height="7.55" fill="#fefdfd"/>
<rect x="144.58" y="270.75" width="11.01" height="7.55" fill="#faecec"/>
<rect x="154.79" y="270.75" width="11.01" height="7.55" fill="#fdf9f9"/>
<rect x="165.00" y="270.75" width="11.01" height="7.55" fill="#fcf2f2"/>
<rect x="175.21" y="270.75" width="11.01" height="7.55" fill="#fcf2f2"/>
<rect x="185.42" y="270.75" width="11.01" height="7.55" fill="#fbf0f0"/>
<rect x="134.37" y="277.51" width="11.01" height="7.55" fill="#fefdfd"/>
<rect x="144.58" y="277.51" width="11.01" height="7.55" fill="#fefbfb"/>
<rect x="154.79" y="277.51" width="11.01" height="7.55" fill="#fefbfb"/>
<rect x="165.00" y="277.51" width="11.01" height="7.55" fill="#f8e5e6"/>
<rect x="175.21" y="277.51" width="11.01" height="7.55" fill="#f8e5e6"/>
<rect x="185.42" y="277.51" width="11.01" height="7.55" fill="#f9e9ea"/>
<rect x="134.37" y="284.26" width="11.01" height="7.55" fill="#fefdfd"/>
<rect x="144.58" y="284.26" width="11.01" height="7.55" fill="#fefbfb"/>
<rect x="154.79" y="284.26" width="11.01" height="7.55" fill="#fafaff"/>
<rect x="165.00" y="284.26" width="11.01" height="7.55" fill="#ffffff"/>
<rect x="175.21" y="284.26" width="11.01" height="7.55" fill="#f8e5e6"/>
<rect x="185.42" y="284.26" width="11.01" height="7.55" fill="#f9e9ea"/>
<rect x="134.37" y="291.01" width="11.01" height="7.55" fill="#fefdfd"/>
<rect x="144.58" y="291.01" width="11.01" height="7.55" fill="#fbf0f0"/>
<rect x="154.79" y="291.01" width="11.01" height="7.55" fill="#fcf2f2"/>
<rect x="165.00" y="291.01" width="11.01" height="7.55" fill="#f8e5e6"/>
<rect x="175.21" y="291.01" width="11.01" height="7.55" fill="#ffffff"/>
<rect x="185.42" y="291.01" width="11.01" height="7.55" fill="#f9e9ea"/>
<rect x="134.37" y="297.76" width="11.01" height="7.55" fill="#fefdfd"/>
<rect x="144.58" y="297.76" width="11.01" height="7.55" fill="#fbf0f0"/>
<rect x="154.79" y="297.76" width="11.01" height="7.55" fill="#fdf9f9"/>
<rect x="165.00" y="297.76" width="11.01" height="7.55" fill="#f7dfdf"/>
<rect x="175.21" y="297.76" width="11.01" height="7.55" fill="#fefdfd"/>
<rect x="185.42" y="297.76" width="11.01" height="7.55" fill="#f7e1e1"/>
<rect x="134.37" y="304.52" width="11.01" height="7.55" fill="#fefdfd"/>
<rect x="144.58" y="304.52" width="11.01" height="7.55" fill="#fdf6f7"/>
<rect x="154.79" y="304.52" width="11.01" height="7.55" fill="#fdf6f7"/>
<rect x="165.00" y="304.52" width="11.01" height="7.55" fill="#f7dfdf"/>
<rect x="175.21" y="304.52" width="11.01" height="7.55" fill="#fdf9f9"/>
<rect x="185.42" y="304.52" width="11.01" height="7.55" fill="#f7e1e1"/>
<rect x="134.37" y="311.27" width="11.01" height="7.55" fill="#fefdfd"/>
<rect x="144.58" y="311.27" width="11.01" height="7.55" fill="#fdf6f7"/>
<rect x="154.79" y="311.27" width="11.01" height="7.55" fill="#fcf2f2"/>
<rect x="165.00" y="311.27" width="11.01" height="7.55" fill="#faecec"/>
<rect x="175.21" y="311.27" width="11.01" height="7.55" fill="#faecec"/>
<rect x="185.42" y="311.27" width="11.01" height="7.55" fill="#fbf0f0"/>
<rect x="134.37" y="318.02" width="11.01" height="7.55" fill="#fefdfd"/>
<rect x="144.58" y="318.02" width="11.01" height="7.55" fill="#fafaff"/>
<rect x="154.79" y="318.02" width="11.01" height="7.55" fill="#fcf2f2"/>
<rect x="165.00" y="318.02" width="11.01" height="7.55" fill="#fdf9f9"/>
<rect x="175.21" y="318.02" width="11.01" height="7.55" fill="#f7e1e1"/>
<rect x="185.42" y="318.02" width="11.01" height="7.55" fill="#fbf0f0"/>
<rect x="134.37" y="324.77" width="11.01" height="7.55" fill="#fefdfd"/>
<rect x="144.58" y="324.77" width="11.01" height="7.55" fill="#fafaff"/>
<rect x="154.79" y="324.77" width="11.01" height="7.55" fill="#ffffff"/>
<rect x="165.00" y="324.77" width="11.01" height="7.55" fill="#faecec"/>
<rect x="175.21" y="324.77" width="11.01" height="7.55" fill="#f1f1ff"/>
<rect x="185.42" y="324.77" width="11.01" height="7.55" fill="#fbf0f0"/>
<rect x="134.37" y="331.53" width="11.01" height="7.55" fill="#fefdfd"/>
<rect x="144.58" y="331.53" width="11.01" height="7.55" fill="#f8e5e6"/>
<rect x="154.79" y="331.53" width="11.01" height="7.55" fill="#faecec"/>
<rect x="165.00" y="331.53" width="11.01" height="7.55" fill="#f5d8d9"/>
<rect x="175.21" y="331.53" width="11.01" height="7.55" fill="#f8f8ff"/>
<rect x="185.42" y="331.53" width="11.01" height="7.55" fill="#f8e5e6"/>
<rect x="134.37" y="338.28" width="11.01" height="7.55" fill="#fefdfd"/>
<rect x="144.58" y="338.28" width="11.01" height="7.55" fill="#fefdfd"/>
<rect x="154.79" y="338.28" width="11.01" height="7.55" fill="#fdf6f7"/>
<rect x="165.00" y="338.28" width="11.01" height="7.55" fill="#f5d8d9"/>
<rect x="175.21" y="338.28" width="11.01" height="7.55" fill="#f6dcdd"/>
<rect x="185.42" y="338.28" width="11.01" height="7.55" fill="#f5d8d9"/>
<rect x="134.37" y="345.03" width="11.01" height="7.55" fill="#fefdfd"/>
<rect x="144.58" y="345.03" width="11.01" height="7.55" fill="#fefdfd"/>
<rect x="154.79" y="345.03" width="11.01" height="7.55" fill="#fdf9f9"/>
<rect x="165.00" y="345.03" width="11.01" height="7.55" fill="#f5d8d9"/>
<rect x="175.21" y="345.03" width="11.01" height="7.55" fill="#f9e9ea"/>
<rect x="185.42" y="345.03" width="11.01" height="7.55" fill="#f4d4d5"/>
<rect x="134.37" y="351.78" width="11.01" height="7.55" fill="#fefdfd"/>
<rect x="144.58" y="351.78" width="11.01" height="7.55" fill="#f6f6ff"/>
<rect x="154.79" y="351.78" width="11.01" height="7.55" fill="#fdfdff"/>
<rect x="165.00" y="351.78" width="11.01" height="7.55" fill="#f5d8d9"/>
<rect x="175.21" y="351.78" width="11.01" height="7.55" fill="#f8e5e6"/>
<rect x="185.42" y="351.78" width="11.01" height="7.55" fill="#f6dcdd"/>
<rect x="134.37" y="358.54" width="11.01" height="7.55" fill="#fefdfd"/>
<rect x="144.58" y="358.54" width="11.01" height="7.55" fill="#ffffff"/>
<rect x="154.79" y="358.54" width="11.01" height="7.55" fill="#fdfdff"/>
<rect x="165.00" y="358.54" width="11.01" height="7.55" fill="#f7dfdf"/>
<rect x="175.21" y="358.54" width="11.01" height="7.55" fill="#f1c9ca"/>
<rect x="185.42" y="358.54" width="11.01" height="7.55" fill="#f9e9ea"/>
<rect x="134.37" y="365.29" width="11.01" height="7.55" fill="#fefdfd"/>
<rect x="144.58" y="365.29" width="11.01" height="7.55" fill="#ffffff"/>
<rect x="154.79" y="365.29" width="11.01" height="7.55" fill="#ffffff"/>
<rect x="165.00" y="365.29" width="11.01" height="7.55" fill="#f5d8d9"/>
<rect x="175.21" y="365.29" width="11.01" height="7.55" fill="#f5d8d9"/>
<rect x="185.42" y="365.29" width="11.01" height="7.55" fill="#f5d8d9"/>
<rect x="134.37" y="372.04" width="11.01" height="7.55" fill="#fefdfd"/>
<rect x="144.58" y="372.04" width="11.01" height="7.55" fill="#fafaff"/>
<rect x="154.79" y="372.04" width="11.01" height="7.55" fill="#f6f6ff"/>
<rect x="165.00" y="372.04" width="11.01" height="7.55" fill="#f8e5e6"/>
<rect x="175.21" y="372.04" width="11.01" height="7.55" fill="#faecec"/>
<rect x="185.42" y="372.04" width="11.01" height="7.55" fill="#f3cfd0"/>
<rect x="134.37" y="378.79" width="11.01" height="7.55" fill="#fefdfd"/>
<rect x="144.58" y="378.79" width="11.01" height="7.55" fill="#ffffff"/>
<rect x="154.79" y="378.79" width="11.01" height="7.55" fill="#ffffff"/>
<rect x="165.00" y="378.79" width="11.01" height="7.55" fill="#f1c9ca"/>
<rect x="175.21" y="378.79" width="11.01" height="7.55" fill="#f5d8d9"/>
<rect x="185.42" y="378.79" width="11.01" height="7.55" fill="#f4d4d5"/>
<rect x="134.37" y="385.55" width="11.01" height="7.55" fill="#fefdfd"/>
<rect x="144.58" y="385.55" width="11.01" height="7.55" fill="#fdf9f9"/>
<rect x="154.79" y="385.55" width="11.01" height="7.55" fill="#fdf9f9"/>
<rect x="165.00" y="385.55" width="11.01" height="7.55" fill="#f0c3c4"/>
<rect x="175.21" y="385.55" width="11.01" height="7.55" fill="#f5d8d9"/>
<rect x="185.42" y="385.55" width="11.01" height="7.55" fill="#f3cfd0"/>
<rect x="134.37" y="392.30" width="11.01" height="7.55" fill="#fefdfd"/>
<rect x="144.58" y="392.30" width="11.01" height="7.55" fill="#fdf9f9"/>
<rect x="154.79" y="392.30" width="11.01" height="7.55" fill="#ffffff"/>
<rect x="165.00" y="392.30" width="11.01" height="7.55" fill="#f3cfd0"/>
<rect x="175.21" y="392.30" width="11.01" height="7.55" fill="#ebb2b4"/>
<rect x="185.42" y="392.30" width="11.01" height="7.55" fill="#f4d4d5"/>
<rect x="134.37" y="399.05" width="11.01" height="7.55" fill="#fefdfd"/>
<rect x="144.58" y="399.05" width="11.01" height="7.55" fill="#f8e5e6"/>
<rect x="154.79" y="399.05" width="11.01" height="7.55" fill="#fcf2f2"/>
<rect x="165.00" y="399.05" width="11.01" height="7.55" fill="#edbabc"/>
<rect x="175.21" y="399.05" width="11.01" height="7.55" fill="#e69da1"/>
<rect x="185.42" y="399.05" width="11.01" height="7.55" fill="#f0c3c4"/>
<rect x="134.37" y="405.81" width="11.01" height="7.55" fill="#fefdfd"/>
<rect x="144.58" y="405.81" width="11.01" height="7.55" fill="#f8f8ff"/>
<rect x="154.79" y="405.81" width="11.01" height="7.55" fill="#ffffff"/>
<rect x="165.00" y="405.81" width="11.01" height="7.55" fill="#fefbfb"/>
<rect x="175.21" y="405.81" width="11.01" height="7.55" fill="#fefbfb"/>
<rect x="185.42" y="405.81" width="11.01" height="7.55" fill="#fefbfb"/>
<rect x="134.37" y="412.56" width="11.01" height="7.55" fill="#fefdfd"/>
<rect x="144.58" y="412.56" width="11.01" height="7.55" fill="#fdfdff"/>
<rect x="154.79" y="412.56" width="11.01" height="7.55" fill="#fefdfd"/>
<rect x="165.00" y="412.56" width="11.01" height="7.55" fill="#fcf2f2"/>
<rect x="175.21" y="412.56" width="11.01" height="7.55" fill="#fbf0f0"/>
<rect x="185.42" y="412.56" width="11.01" height="7.55" fill="#fcf4f4"/>
<rect x="134.37" y="419.31" width="11.01" height="7.55" fill="#fefdfd"/>
<rect x="144.58" y="419.31" width="11.01" height="7.55" fill="#fefdfd"/>
<rect x="154.79" y="419.31" width="11.01" height="7.55" fill="#fdf9f9"/>
<rect x="165.00" y="419.31" width="11.01" height="7.55" fill="#fdf9f9"/>
<rect x="175.21" y="419.31" width="11.01" height="7.55" fill="#fdf6f7"/>
<rect x="185.42" y="419.31" width="11.01" height="7.55" fill="#fdf6f7"/>
<rect x="134.37" y="426.06" width="11.01" height="7.55" fill="#fefdfd"/>
<rect x="144.58" y="426.06" width="11.01" height="7.55" fill="#fafaff"/>
<rect x="154.79" y="426.06" width="11.01" height="7.55" fill="#fdfdff"/>
<rect x="165.00" y="426.06" width="11.01" height="7.55" fill="#fbf0f0"/>
<rect x="175.21" y="426.06" width="11.01" height="7.55" fill="#ffffff"/>
<rect x="185.42" y="426.06" width="11.01" height="7.55" fill="#fcf4f4"/>
<rect x="134.37" y="432.82" width="11.01" height="7.55" fill="#fefdfd"/>
<rect x="144.58" y="432.82" width="11.01" height="7.55" fill="#f8f8ff"/>
<rect x="154.79" y="432.82" width="11.01" height="7.55" fill="#ffffff"/>
<rect x="165.00" y="432.82" width="11.01" height="7.55" fill="#fcf2f2"/>
<rect x="175.21" y="432.82" width="11.01" height="7.55" fill="#fdf9f9"/>
<rect x="185.42" y="432.82" width="11.01" height="7.55" fill="#fdf6f7"/>
<rect x="134.37" y="439.57" width="11.01" height="7.55" fill="#fefdfd"/>
<rect x="144.58" y="439.57" width="11.01" height="7.55" fill="#fdfdff"/>
<rect x="154.79" y="439.57" width="11.01" height="7.55" fill="#ffffff"/>
<rect x="165.00" y="439.57" width="11.01" height="7.55" fill="#fcf2f2"/>
<rect x="175.21" y="439.57" width="11.01" height="7.55" fill="#fdf9f9"/>
<rect x="185.42" y="439.57" width="11.01" height="7.55" fill="#fcf4f4"/>
<rect x="134.37" y="446.32" width="11.01" height="7.55" fill="#fefdfd"/>
<rect x="144.58" y="446.32" width="11.01" height="7.55" fill="#f3f3ff"/>
<rect x="154.79" y="446.32" width="11.01" height="7.55" fill="#ffffff"/>
<rect x="165.00" y="446.32" width="11.01" height="7.55" fill="#ffffff"/>
<rect x="175.21" y="446.32" width="11.01" height="7.55" fill="#fdf6f7"/>
<rect x="185.42" y="446.32" width="11.01" height="7.55" fill="#fcf4f4"/>
<rect x="134.37" y="453.07" width="11.01" height="7.55" fill="#fefdfd"/>
<rect x="144.58" y="453.07" width="11.01" height="7.55" fill="#f8f8ff"/>
<rect x="154.79" y="453.07" width="11.01" height="7.55" fill="#fdfdff"/>
<rect x="165.00" y="453.07" width="11.01" height="7.55" fill="#faecec"/>
<rect x="175.21" y="453.07" width="11.01" height="7.55" fill="#fcf2f2"/>
<rect x="185.42" y="453.07" width="11.01" height="7.55" fill="#f8e5e6"/>
<rect x="134.37" y="459.83" width="11.01" height="7.55" fill="#fefdfd"/>
<rect x="144.58" y="459.83" width="11.01" height="7.55" fill="#f3f3ff"/>
<rect x="154.79" y="459.83" width="11.01" height="7.55" fill="#eeeeff"/>
<rect x="165.00" y="459.83" width="11.01" height="7.55" fill="#faecec"/>
<rect x="175.21" y="459.83" width="11.01" height="7.55" fill="#f9e7e8"/>
<rect x="185.42" y="459.83" width="11.01" height="7.55" fill="#fdf9f9"/>
<rect x="134.37" y="466.58" width="11.01" height="7.55" fill="#fefdfd"/>
<rect x="144.58" y="466.58" width="11.01" height="7.55" fill="#fdf9f9"/>
<rect x="154.79" y="466.58" width="11.01" height="7.55" fill="#fdf9f9"/>
<rect x="165.00" y="466.58" width="11.01" height="7.55" fill="#fcf2f2"/>
<rect x="175.21" y="466.58" width="11.01" height="7.55" fill="#fafaff"/>
<rect x="185.42" y="466.58" width="11.01" height="7.55" fill="#fdf9f9"/>
<rect x="134.37" y="473.33" width="11.01" height="7.55" fill="#fefdfd"/>
<rect x="144.58" y="473.33" width="11.01" height="7.55" fill="#fdf9f9"/>
<rect x="154.79" y="473.33" width="11.01" height="7.55" fill="#fdf9f9"/>
<rect x="165.00" y="473.33" width="11.01" height="7.55" fill="#fcf2f2"/>
<rect x="175.21" y="473.33" width="11.01" height="7.55" fill="#ffffff"/>
<rect x="185.42" y="473.33" width="11.01" height="7.55" fill="#fdf9f9"/>
<rect x="134.37" y="480.08" width="11.01" height="7.55" fill="#fefdfd"/>
<rect x="144.58" y="480.08" width="11.01" height="7.55" fill="#f8f8ff"/>
<rect x="154.79" y="480.08" width="11.01" height="7.55" fill="#ffffff"/>
<rect x="165.00" y="480.08" width="11.01" height="7.55" fill="#ffffff"/>
<rect x="175.21" y="480.08" width="11.01" height="7.55" fill="#f8f8ff"/>
<rect x="185.42" y="480.08" width="11.01" height="7.55" fill="#fdfdff"/>
<rect x="134.37" y="486.84" width="11.01" height="7.55" fill="#fefdfd"/>
<rect x="144.58" y="486.84" width="11.01" height="7.55" fill="#f3f3ff"/>
<rect x="154.79" y="486.84" width="11.01" height="7.55" fill="#fdfdff"/>
<rect x="165.00" y="486.84" width="11.01" height="7.55" fill="#ececff"/>
<rect x="175.21" y="486.84" width="11.01" height="7.55" fill="#ececff"/>
<rect x="185.42" y="486.84" width="11.01" height="7.55" fill="#fdfdff"/>
<rect x="134.37" y="493.59" width="11.01" height="7.55" fill="#fefdfd"/>
<rect x="144.58" y="493.59" width="11.01" height="7.55" fill="#fefdfd"/>
<rect x="154.79" y="493.59" width="11.01" height="7.55" fill="#fdf9f9"/>
<rect x="165.00" y="493.59" width="11.01" height="7.55" fill="#e38f93"/>
<rect x="175.21" y="493.59" width="11.01" height="7.55" fill="#eaacae"/>
<rect x="185.42" y="493.59" width="11.01" height="7.55" fill="#df8085"/>
<rect x="134.37" y="500.34" width="11.01" height="7.55" fill="#fefdfd"/>
<rect x="144.58" y="500.34" width="11.01" height="7.55" fill="#faecec"/>
<rect x="154.79" y="500.34" width="11.01" height="7.55" fill="#fdf9f9"/>
<rect x="165.00" y="500.34" width="11.01" height="7.55" fill="#e5979b"/>
<rect x="175.21" y="500.34" width="11.01" height="7.55" fill="#e8a3a6"/>
<rect x="185.42" y="500.34" width="11.01" height="7.55" fill="#edbabc"/>
<rect x="134.37" y="507.09" width="11.01" height="7.55" fill="#fefdfd"/>
<rect x="144.58" y="507.09" width="11.01" height="7.55" fill="#eeeeff"/>
<rect x="154.79" y="507.09" width="11.01" height="7.55" fill="#b8b8ff"/>
<rect x="165.00" y="507.09" width="11.01" height="7.55" fill="#edbabc"/>
<rect x="175.21" y="507.09" width="11.01" height="7.55" fill="#df8085"/>
<rect x="185.42" y="507.09" width="11.01" height="7.55" fill="#e38f93"/>
<rect x="134.37" y="513.85" width="11.01" height="6.75" fill="#fefdfd"/>
<rect x="144.58" y="513.85" width="11.01" height="6.75" fill="#d0d0ff"/>
<rect x="154.79" y="513.85" width="11.01" height="6.75" fill="#f8e5e6"/>
<rect x="165.00" y="513.85" width="11.01" height="6.75" fill="#df5053"/>
<rect x="175.21" y="513.85" width="11.01" height="6.75" fill="#de2021"/>
<rect x="185.42" y="513.85" width="11.01" height="6.75" fill="#df7478"/>
<rect x="195.63" y="264.00" width="11.01" height="7.55" fill="#fefdfd"/>
<rect x="205.84" y="264.00" width="11.01" height="7.55" fill="#fefdfd"/>
<rect x="216.06" y="264.00" width="11.01" height="7.55" fill="#fdf6f7"/>
<rect x="226.27" y="264.00" width="11.01" height="7.55" fill="#f9e9ea"/>
<rect x="236.48" y="264.00" width="11.01" height="7.55" fill="#f5d8d9"/>
<rect x="246.69" y="264.00" width="10.21" height="7.55" fill="#faecec"/>
<rect x="195.63" y="270.75" width="11.01" height="7.55" fill="#fefdfd"/>
<rect x="205.84" y="270.75" width="11.01" height="7.55" fill="#fefdfd"/>
<rect x="216.06" y="270.75" width="11.01" height="7.55" fill="#fefdfd"/>
<rect x="226.27" y="270.75" width="11.01" height="7.55" fill="#f8e5e6"/>
<rect x="236.48" y="270.75" width="11.01" height="7.55" fill="#f8e5e6"/>
<rect x="246.69" y="270.75" width="10.21" height="7.55" fill="#f8e5e6"/>
<rect x="195.63" y="277.51" width="11.01" height="7.55" fill="#fefdfd"/>
<rect x="205.84" y="277.51" width="11.01" height="7.55" fill="#fafaff"/>
<rect x="216.06" y="277.51" width="11.01" height="7.55" fill="#ffffff"/>
<rect x="226.27" y="277.51" width="11.01" height="7.55" fill="#faecec"/>
<rect x="236.48" y="277.51" width="11.01" height="7.55" fill="#fbf0f0"/>
<rect x="246.69" y="277.51" width="10.21" height="7.55" fill="#f8e5e6"/>
<rect x="195.63" y="284.26" width="11.01" height="7.55" fill="#fefdfd"/>
<rect x="205.84" y="284.26" width="11.01" height="7.55" fill="#fdf6f7"/>
<rect x="216.06" y="284.26" width="11.01" height="7.55" fill="#fafaff"/>
<rect x="226.27" y="284.26" width="11.01" height="7.55" fill="#f5d8d9"/>
<rect x="236.48" y="284.26" width="11.01" height="7.55" fill="#f3cfd0"/>
<rect x="246.69" y="284.26" width="10.21" height="7.55" fill="#f8e5e6"/>
<rect x="195.63" y="291.01" width="11.01" height="7.55" fill="#fefdfd"/>
<rect x="205.84" y="291.01" width="11.01" height="7.55" fill="#fbf0f0"/>
<rect x="216.06" y="291.01" width="11.01" height="7.55" fill="#fdf9f9"/>
<rect x="226.27" y="291.01" width="11.01" height="7.55" fill="#f7dfdf"/>
<rect x="236.48" y="291.01" width="11.01" height="7.55" fill="#f3cfd0"/>
<rect x="246.69" y="291.01" width="10.21" height="7.55" fill="#f8e5e6"/>
<rect x="195.63" y="297.76" width="11.01" height="7.55" fill="#fefdfd"/>
<rect x="205.84" y="297.76" width="11.01" height="7.55" fill="#fefdfd"/>
<rect x="216.06" y="297.76" width="11.01" height="7.55" fill="#fdf9f9"/>
<rect x="226.27" y="297.76" width="11.01" height="7.55" fill="#f8e5e6"/>
<rect x="236.48" y="297.76" width="11.01" height="7.55" fill="#f7dfdf"/>
<rect x="246.69" y="297.76" width="10.21" height="7.55" fill="#f8e5e6"/>
<rect x="195.63" y="304.52" width="11.01" height="7.55" fill="#fefdfd"/>
<rect x="205.84" y="304.52" width="11.01" height="7.55" fill="#fafaff"/>
<rect x="216.06" y="304.52" width="11.01" height="7.55" fill="#fdfdff"/>
<rect x="226.27" y="304.52" width="11.01" height="7.55" fill="#f4d4d5"/>
<rect x="236.48" y="304.52" width="11.01" height="7.55" fill="#edbabc"/>
<rect x="246.69" y="304.52" width="10.21" height="7.55" fill="#f8e5e6"/>
<rect x="195.63" y="311.27" width="11.01" height="7.55" fill="#fefdfd"/>
<rect x="205.84" y="311.27" width="11.01" height="7.55" fill="#f9e9ea"/>
<rect x="216.06" y="311.27" width="11.01" height="7.55" fill="#fdf6f7"/>
<rect x="226.27" y="311.27" width="11.01" height="7.55" fill="#f4d4d5"/>
<rect x="236.48" y="311.27" width="11.01" height="7.55" fill="#f3cfd0"/>
<rect x="246.69" y="311.27" width="10.21" height="7.55" fill="#f4d4d5"/>
<rect x="195.63" y="318.02" width="11.01" height="7.55" fill="#fefdfd"/>
<rect x="205.84" y="318.02" width="11.01" height="7.55" fill="#fafaff"/>
<rect x="216.06" y="318.02" width="11.01" height="7.55" fill="#fefdfd"/>
<rect x="226.27" y="318.02" width="11.01" height="7.55" fill="#f4d4d5"/>
<rect x="236.48" y="318.02" width="11.01" height="7.55" fill="#f8e5e6"/>
<rect x="246.69" y="318.02" width="10.21" height="7.55" fill="#f3cfd0"/>
<rect x="195.63" y="324.77" width="11.01" height="7.55" fill="#fefdfd"/>
<rect x="205.84" y="324.77" width="11.01" height="7.55" fill="#fbf0f0"/>
<rect x="216.06" y="324.77" width="11.01" height="7.55" fill="#fefdfd"/>
<rect x="226.27" y="324.77" width="11.01" height="7.55" fill="#f4d4d5"/>
<rect x="236.48" y="324.77" width="11.01" height="7.55" fill="#f1c9ca"/>
<rect x="246.69" y="324.77" width="10.21" height="7.55" fill="#f3cfd0"/>
<rect x="195.63" y="331.53" width="11.01" height="7.55" fill="#fefdfd"/>
<rect x="205.84" y="331.53" width="11.01" height="7.55" fill="#f5d8d9"/>
<rect x="216.06" y="331.53" width="11.01" height="7.55" fill="#fcf2f2"/>
<rect x="226.27" y="331.53" width="11.01" height="7.55" fill="#f8e5e6"/>
<rect x="236.48" y="331.53" width="11.01" height="7.55" fill="#f7dfdf"/>
<rect x="246.69" y="331.53" width="10.21" height="7.55" fill="#fbf0f0"/>
<rect x="195.63" y="338.28" width="11.01" height="7.55" fill="#fefdfd"/>
<rect x="205.84" y="338.28" width="11.01" height="7.55" fill="#fefdfd"/>
<rect x="216.06" y="338.28" width="11.01" height="7.55" fill="#fdf9f9"/>
<rect x="226.27" y="338.28" width="11.01" height="7.55" fill="#f3cfd0"/>
<rect x="236.48" y="338.28" width="11.01" height="7.55" fill="#f3cfd0"/>
<rect x="246.69" y="338.28" width="10.21" height="7.55" fill="#f4d4d5"/>
<rect x="195.63" y="345.03" width="11.01" height="7.55" fill="#fefdfd"/>
<rect x="205.84" y="345.03" width="11.01" height="7.55" fill="#fdf6f7"/>
<rect x="216.06" y="345.03" width="11.01" height="7.55" fill="#fefbfb"/>
<rect x="226.27" y="345.03" width="11.01" height="7.55" fill="#f1c9ca"/>
<rect x="236.48" y="345.03" width="11.01" height="7.55" fill="#f4d4d5"/>
<rect x="246.69" y="345.03" width="10.21" height="7.55" fill="#f4d4d5"/>
<rect x="195.63" y="351.78" width="11.01" height="7.55" fill="#fefdfd"/>
<rect x="205.84" y="351.78" width="11.01" height="7.55" fill="#ffffff"/>
<rect x="216.06" y="351.78" width="11.01" height="7.55" fill="#fdfdff"/>
<rect x="226.27" y="351.78" width="11.01" height="7.55" fill="#f5d8d9"/>
<rect x="236.48" y="351.78" width="11.01" height="7.55" fill="#edbabc"/>
<rect x="246.69" y="351.78" width="10.21" height="7.55" fill="#f4d4d5"/>
<rect x="195.63" y="358.54" width="11.01" height="7.55" fill="#fefdfd"/>
<rect x="205.84" y="358.54" width="11.01" height="7.55" fill="#fdfdff"/>
<rect x="216.06" y="358.54" width="11.01" height="7.55" fill="#fdf9f9"/>
<rect x="226.27" y="358.54" width="11.01" height="7.55" fill="#f4d4d5"/>
<rect x="236.48" y="358.54" width="11.01" height="7.55" fill="#f8e5e6"/>
<rect x="246.69" y="358.54" width="10.21" height="7.55" fill="#f1c9ca"/>
<rect x="195.63" y="365.29" width="11.01" height="7.55" fill="#fefdfd"/>
<rect x="205.84" y="365.29" width="11.01" height="7.55" fill="#f6f6ff"/>
<rect x="216.06" y="365.29" width="11.01" height="7.55" fill="#ffffff"/>
<rect x="226.27" y="365.29" width="11.01" height="7.55" fill="#f5d8d9"/>
<rect x="236.48" y="365.29" width="11.01" height="7.55" fill="#f4d4d5"/>
<rect x="246.69" y="365.29" width="10.21" height="7.55" fill="#f4d4d5"/>
<rect x="195.63" y="372.04" width="11.01" height="7.55" fill="#fefdfd"/>
<rect x="205.84" y="372.04" width="11.01" height="7.55" fill="#f8e5e6"/>
<rect x="216.06" y="372.04" width="11.01" height="7.55" fill="#f8e5e6"/>
<rect x="226.27" y="372.04" width="11.01" height="7.55" fill="#f1c9ca"/>
<rect x="236.48" y="372.04" width="11.01" height="7.55" fill="#ebb2b4"/>
<rect x="246.69" y="372.04" width="10.21" height="7.55" fill="#f8e5e6"/>
<rect x="195.63" y="378.79" width="11.01" height="7.55" fill="#fefdfd"/>
<rect x="205.84" y="378.79" width="11.01" height="7.55" fill="#f9e9ea"/>
<rect x="216.06" y="378.79" width="11.01" height="7.55" fill="#fdf9f9"/>
<rect x="226.27" y="378.79" width="11.01" height="7.55" fill="#f1c9ca"/>
<rect x="236.48" y="378.79" width="11.01" height="7.55" fill="#e9a9ac"/>
<rect x="246.69" y="378.79" width="10.21" height="7.55" fill="#edbabc"/>
<rect x="195.63" y="385.55" width="11.01" height="7.55" fill="#fefdfd"/>
<rect x="205.84" y="385.55" width="11.01" height="7.55" fill="#fdf9f9"/>
<rect x="216.06" y="385.55" width="11.01" height="7.55" fill="#fcf2f2"/>
<rect x="226.27" y="385.55" width="11.01" height="7.55" fill="#f3cfd0"/>
<rect x="236.48" y="385.55" width="11.01" height="7.55" fill="#ebb2b4"/>
<rect x="246.69" y="385.55" width="10.21" height="7.55" fill="#f1c9ca"/>
<rect x="195.63" y="392.30" width="11.01" height="7.55" fill="#fefdfd"/>
<rect x="205.84" y="392.30" width="11.01" height="7.55" fill="#ffffff"/>
<rect x="216.06" y="392.30" width="11.01" height="7.55" fill="#fefdfd"/>
<rect x="226.27" y="392.30" width="11.01" height="7.55" fill="#f1c9ca"/>
<rect x="236.48" y="392.30" width="11.01" height="7.55" fill="#f0c3c4"/>
<rect x="246.69" y="392.30" width="10.21" height="7.55" fill="#f1c9ca"/>
<rect x="195.63" y="399.05" width="11.01" height="7.55" fill="#fefdfd"/>
<rect x="205.84" y="399.05" width="11.01" height="7.55" fill="#fafaff"/>
<rect x="216.06" y="399.05" width="11.01" height="7.55" fill="#fbf0f0"/>
<rect x="226.27" y="399.05" width="11.01" height="7.55" fill="#edbabc"/>
<rect x="236.48" y="399.05" width="11.01" height="7.55" fill="#edbabc"/>
<rect x="246.69" y="399.05" width="10.21" height="7.55" fill="#e8a3a6"/>
<rect x="195.63" y="405.81" width="11.01" height="7.55" fill="#fefdfd"/>
<rect x="205.84" y="405.81" width="11.01" height="7.55" fill="#fbf0f0"/>
<rect x="216.06" y="405.81" width="11.01" height="7.55" fill="#fefdfd"/>
<rect x="226.27" y="405.81" width="11.01" height="7.55" fill="#fcf2f2"/>
<rect x="236.48" y="405.81" width="11.01" height="7.55" fill="#fcf2f2"/>
<rect x="246.69" y="405.81" width="10.21" height="7.55" fill="#fcf2f2"/>
<rect x="195.63" y="412.56" width="11.01" height="7.55" fill="#fefdfd"/>
<rect x="205.84" y="412.56" width="11.01" height="7.55" fill="#fefdfd"/>
<rect x="216.06" y="412.56" width="11.01" height="7.55" fill="#fefdfd"/>
<rect x="226.27" y="412.56" width="11.01" height="7.55" fill="#fbf0f0"/>
<rect x="236.48" y="412.56" width="11.01" height="7.55" fill="#fbf0f0"/>
<rect x="246.69" y="412.56" width="10.21" height="7.55" fill="#fcf2f2"/>
<rect x="195.63" y="419.31" width="11.01" height="7.55" fill="#fefdfd"/>
<rect x="205.84" y="419.31" width="11.01" height="7.55" fill="#fdf6f7"/>
<rect x="216.06" y="419.31" width="11.01" height="7.55" fill="#fefdfd"/>
<rect x="226.27" y="419.31" width="11.01" height="7.55" fill="#ffffff"/>
<rect x="236.48" y="419.31" width="11.01" height="7.55" fill="#fbf0f0"/>
<rect x="246.69" y="419.31" width="10.21" height="7.55" fill="#fefbfb"/>
<rect x="195.63" y="426.06" width="11.01" height="7.55" fill="#fefdfd"/>
<rect x="205.84" y="426.06" width="11.01" height="7.55" fill="#fefdfd"/>
<rect x="216.06" y="426.06" width="11.01" height="7.55" fill="#fefdfd"/>
<rect x="226.27" y="426.06" width="11.01" height="7.55" fill="#fdf6f7"/>
<rect x="236.48" y="426.06" width="11.01" height="7.55" fill="#fdf9f9"/>
<rect x="246.69" y="426.06" width="10.21" height="7.55" fill="#fbf0f0"/>
<rect x="195.63" y="432.82" width="11.01" height="7.55" fill="#fefdfd"/>
<rect x="205.84" y="432.82" width="11.01" height="7.55" fill="#ffffff"/>
<rect x="216.06" y="432.82" width="11.01" height="7.55" fill="#ffffff"/>
<rect x="226.27" y="432.82" width="11.01" height="7.55" fill="#fbf0f0"/>
<rect x="236.48" y="432.82" width="11.01" height="7.55" fill="#fefbfb"/>
<rect x="246.69" y="432.82" width="10.21" height="7.55" fill="#fbf0f0"/>
<rect x="195.63" y="439.57" width="11.01" height="7.55" fill="#fefdfd"/>
<rect x="205.84" y="439.57" width="11.01" height="7.55" fill="#fdfdff"/>
<rect x="216.06" y="439.57" width="11.01" height="7.55" fill="#fdfdff"/>
<rect x="226.27" y="439.57" width="11.01" height="7.55" fill="#fdf9f9"/>
<rect x="236.48" y="439.57" width="11.01" height="7.55" fill="#fefbfb"/>
<rect x="246.69" y="439.57" width="10.21" height="7.55" fill="#fbf0f0"/>
<rect x="195.63" y="446.32" width="11.01" height="7.55" fill="#fefdfd"/>
<rect x="205.84" y="446.32" width="11.01" height="7.55" fill="#fbf0f0"/>
<rect x="216.06" y="446.32" width="11.01" height="7.55" fill="#fdf9f9"/>
<rect x="226.27" y="446.32" width="11.01" height="7.55" fill="#faecec"/>
<rect x="236.48" y="446.32" width="11.01" height="7.55" fill="#fefbfb"/>
<rect x="246.69" y="446.32" width="10.21" height="7.55" fill="#fdf6f7"/>
<rect x="195.63" y="453.07" width="11.01" height="7.55" fill="#fefdfd"/>
<rect x="205.84" y="453.07" width="11.01" height="7.55" fill="#fafaff"/>
<rect x="216.06" y="453.07" width="11.01" height="7.55" fill="#fdfdff"/>
<rect x="226.27" y="453.07" width="11.01" height="7.55" fill="#fdf9f9"/>
<rect x="236.48" y="453.07" width="11.01" height="7.55" fill="#f8e5e6"/>
<rect x="246.69" y="453.07" width="10.21" height="7.55" fill="#fbf0f0"/>
<rect x="195.63" y="459.83" width="11.01" height="7.55" fill="#fefdfd"/>
<rect x="205.84" y="459.83" width="11.01" height="7.55" fill="#ececff"/>
<rect x="216.06" y="459.83" width="11.01" height="7.55" fill="#fcf4f4"/>
<rect x="226.27" y="459.83" width="11.01" height="7.55" fill="#fdf9f9"/>
<rect x="236.48" y="459.83" width="11.01" height="7.55" fill="#f7dfdf"/>
<rect x="246.69" y="459.83" width="10.21" height="7.55" fill="#ececff"/>
<rect x="195.63" y="466.58" width="11.01" height="7.55" fill="#fefdfd"/>
<rect x="205.84" y="466.58" width="11.01" height="7.55" fill="#ffffff"/>
<rect x="216.06" y="466.58" width="11.01" height="7.55" fill="#ffffff"/>
<rect x="226.27" y="466.58" width="11.01" height="7.55" fill="#fdf9f9"/>
<rect x="236.48" y="466.58" width="11.01" height="7.55" fill="#fcf2f2"/>
<rect x="246.69" y="466.58" width="10.21" height="7.55" fill="#fefdfd"/>
<rect x="195.63" y="473.33" width="11.01" height="7.55" fill="#fefdfd"/>
<rect x="205.84" y="473.33" width="11.01" height="7.55" fill="#f6f6ff"/>
<rect x="216.06" y="473.33" width="11.01" height="7.55" fill="#fdf9f9"/>
<rect x="226.27" y="473.33" width="11.01" height="7.55" fill="#fafaff"/>
<rect x="236.48" y="473.33" width="11.01" height="7.55" fill="#fdf6f7"/>
<rect x="246.69" y="473.33" width="10.21" height="7.55" fill="#fefdfd"/>
<rect x="195.63" y="480.08" width="11.01" height="7.55" fill="#fefdfd"/>
<rect x="205.84" y="480.08" width="11.01" height="7.55" fill="#fcf2f2"/>
<rect x="216.06" y="480.08" width="11.01" height="7.55" fill="#ffffff"/>
<rect x="226.27" y="480.08" width="11.01" height="7.55" fill="#fdf9f9"/>
<rect x="236.48" y="480.08" width="11.01" height="7.55" fill="#fdfdff"/>
<rect x="246.69" y="480.08" width="10.21" height="7.55" fill="#fdfdff"/>
<rect x="195.63" y="486.84" width="11.01" height="7.55" fill="#fefdfd"/>
<rect x="205.84" y="486.84" width="11.01" height="7.55" fill="#faecec"/>
<rect x="216.06" y="486.84" width="11.01" height="7.55" fill="#fdfdff"/>
<rect x="226.27" y="486.84" width="11.01" height="7.55" fill="#f7dfdf"/>
<rect x="236.48" y="486.84" width="11.01" height="7.55" fill="#f7dfdf"/>
<rect x="246.69" y="486.84" width="10.21" height="7.55" fill="#faecec"/>
<rect x="195.63" y="493.59" width="11.01" height="7.55" fill="#fefdfd"/>
<rect x="205.84" y="493.59" width="11.01" height="7.55" fill="#fdf9f9"/>
<rect x="216.06" y="493.59" width="11.01" height="7.55" fill="#fafaff"/>
<rect x="226.27" y="493.59" width="11.01" height="7.55" fill="#df7478"/>
<rect x="236.48" y="493.59" width="11.01" height="7.55" fill="#df686c"/>
<rect x="246.69" y="493.59" width="10.21" height="7.55" fill="#df8085"/>
<rect x="195.63" y="500.34" width="11.01" height="7.55" fill="#fefdfd"/>
<rect x="205.84" y="500.34" width="11.01" height="7.55" fill="#f8e5e6"/>
<rect x="216.06" y="500.34" width="11.01" height="7.55" fill="#fdf6f7"/>
<rect x="226.27" y="500.34" width="11.01" height="7.55" fill="#e38f93"/>
<rect x="236.48" y="500.34" width="11.01" height="7.55" fill="#e38f93"/>
<rect x="246.69" y="500.34" width="10.21" height="7.55" fill="#e38f93"/>
<rect x="195.63" y="507.09" width="11.01" height="7.55" fill="#fefdfd"/>
<rect x="205.84" y="507.09" width="11.01" height="7.55" fill="#ececff"/>
<rect x="216.06" y="507.09" width="11.01" height="7.55" fill="#dcdcff"/>
<rect x="226.27" y="507.09" width="11.01" height="7.55" fill="#df8085"/>
<rect x="236.48" y="507.09" width="11.01" height="7.55" fill="#df5c60"/>
<rect x="246.69" y="507.09" width="10.21" height="7.55" fill="#e38f93"/>
<rect x="195.63" y="513.85" width="11.01" height="6.75" fill="#fefdfd"/>
<rect x="205.84" y="513.85" width="11.01" height="6.75" fill="#edbabc"/>
<rect x="216.06" y="513.85" width="11.01" height="6.75" fill="#ececff"/>
<rect x="226.27" y="513.85" width="11.01" height="6.75" fill="#de2021"/>
<rect x="236.48" y="513.85" width="11.01" height="6.75" fill="#de0808"/>
<rect x="246.69" y="513.85" width="10.21" height="6.75" fill="#de2c2e"/>
<text x="260.30" y="269.43" font-size="6.2" textLength="12.53" lengthAdjust="spacingAndGlyphs" fill="#222" stroke="#222" stroke-width="0.06" >TAP1</text>
<text x="260.30" y="276.18" font-size="6.2" textLength="16.64" lengthAdjust="spacingAndGlyphs" fill="#222" stroke="#222" stroke-width="0.06" >NFKB1</text>
<text x="260.30" y="282.93" font-size="6.2" textLength="11.19" lengthAdjust="spacingAndGlyphs" fill="#222" stroke="#222" stroke-width="0.06" >IRF4</text>
<text x="260.30" y="289.68" font-size="6.2" textLength="10.61" lengthAdjust="spacingAndGlyphs" fill="#222" stroke="#222" stroke-width="0.06" >CFH</text>
<text x="260.30" y="296.44" font-size="6.2" textLength="16.64" lengthAdjust="spacingAndGlyphs" fill="#222" stroke="#222" stroke-width="0.06" >DDX60</text>
<text x="260.30" y="303.19" font-size="6.2" textLength="15.30" lengthAdjust="spacingAndGlyphs" fill="#222" stroke="#222" stroke-width="0.06" >WARS</text>
<text x="260.30" y="309.94" font-size="6.2" textLength="10.61" lengthAdjust="spacingAndGlyphs" fill="#222" stroke="#222" stroke-width="0.06" >MX2</text>
<text x="260.30" y="316.69" font-size="6.2" textLength="18.07" lengthAdjust="spacingAndGlyphs" fill="#222" stroke="#222" stroke-width="0.06" >NAMPT</text>
<text x="260.30" y="323.45" font-size="6.2" textLength="17.50" lengthAdjust="spacingAndGlyphs" fill="#222" stroke="#222" stroke-width="0.06" >SOCS3</text>
<text x="260.30" y="330.20" font-size="6.2" textLength="13.77" lengthAdjust="spacingAndGlyphs" fill="#222" stroke="#222" stroke-width="0.06" >OASL</text>
<text x="260.30" y="336.95" font-size="6.2" textLength="14.06" lengthAdjust="spacingAndGlyphs" fill="#222" stroke="#222" stroke-width="0.06" >SSPN</text>
<text x="260.30" y="343.71" font-size="6.2" textLength="12.34" lengthAdjust="spacingAndGlyphs" fill="#222" stroke="#222" stroke-width="0.06" >JAK2</text>
<text x="260.30" y="350.46" font-size="6.2" textLength="19.14" lengthAdjust="spacingAndGlyphs" fill="#222" stroke="#222" stroke-width="0.06" >P2RY14</text>
<text x="260.30" y="357.21" font-size="6.2" textLength="12.25" lengthAdjust="spacingAndGlyphs" fill="#222" stroke="#222" stroke-width="0.06" >LY6E</text>
<text x="260.30" y="363.96" font-size="6.2" textLength="10.05" lengthAdjust="spacingAndGlyphs" fill="#222" stroke="#222" stroke-width="0.06" >IL15</text>
<text x="260.30" y="370.72" font-size="6.2" textLength="10.61" lengthAdjust="spacingAndGlyphs" fill="#222" stroke="#222" stroke-width="0.06" >PML</text>
<text x="260.30" y="377.47" font-size="6.2" textLength="17.79" lengthAdjust="spacingAndGlyphs" fill="#222" stroke="#222" stroke-width="0.06" >VCAM1</text>
<text x="260.30" y="384.22" font-size="6.2" textLength="12.05" lengthAdjust="spacingAndGlyphs" fill="#222" stroke="#222" stroke-width="0.06" >IFIT2</text>
<text x="260.30" y="390.97" font-size="6.2" textLength="13.77" lengthAdjust="spacingAndGlyphs" fill="#222" stroke="#222" stroke-width="0.06" >GBP4</text>
<text x="260.30" y="397.73" font-size="6.2" textLength="18.36" lengthAdjust="spacingAndGlyphs" fill="#222" stroke="#222" stroke-width="0.06" >TRIM25</text>
<text x="260.30" y="404.48" font-size="6.2" textLength="11.76" lengthAdjust="spacingAndGlyphs" fill="#222" stroke="#222" stroke-width="0.06" >IFI44</text>
<text x="260.30" y="411.23" font-size="6.2" textLength="17.50" lengthAdjust="spacingAndGlyphs" fill="#222" stroke="#222" stroke-width="0.06" >PSMB8</text>
<text x="260.30" y="417.98" font-size="6.2" textLength="16.64" lengthAdjust="spacingAndGlyphs" fill="#222" stroke="#222" stroke-width="0.06" >PTPN2</text>
<text x="260.30" y="424.74" font-size="6.2" textLength="16.36" lengthAdjust="spacingAndGlyphs" fill="#222" stroke="#222" stroke-width="0.06" >HLA–B</text>
<text x="260.30" y="431.49" font-size="6.2" textLength="26.68" lengthAdjust="spacingAndGlyphs" fill="#222" stroke="#222" stroke-width="0.06" >HLA–DRB1</text>
<text x="260.30" y="438.24" font-size="6.2" textLength="17.50" lengthAdjust="spacingAndGlyphs" fill="#222" stroke="#222" stroke-width="0.06" >PSMB9</text>
<text x="260.30" y="444.99" font-size="6.2" textLength="11.19" lengthAdjust="spacingAndGlyphs" fill="#222" stroke="#222" stroke-width="0.06" >MVP</text>
<text x="260.30" y="451.75" font-size="6.2" textLength="16.93" lengthAdjust="spacingAndGlyphs" fill="#222" stroke="#222" stroke-width="0.06" >HLA–G</text>
<text x="260.30" y="458.50" font-size="6.2" textLength="11.19" lengthAdjust="spacingAndGlyphs" fill="#222" stroke="#222" stroke-width="0.06" >IRF7</text>
<text x="260.30" y="465.25" font-size="6.2" textLength="11.76" lengthAdjust="spacingAndGlyphs" fill="#222" stroke="#222" stroke-width="0.06" >IFI27</text>
<text x="260.30" y="472.01" font-size="6.2" textLength="14.34" lengthAdjust="spacingAndGlyphs" fill="#222" stroke="#222" stroke-width="0.06" >ADAR</text>
<text x="260.30" y="478.76" font-size="6.2" textLength="16.93" lengthAdjust="spacingAndGlyphs" fill="#222" stroke="#222" stroke-width="0.06" >NLRC5</text>
<text x="260.30" y="485.51" font-size="6.2" textLength="16.93" lengthAdjust="spacingAndGlyphs" fill="#222" stroke="#222" stroke-width="0.06" >GPR18</text>
<text x="260.30" y="492.26" font-size="6.2" textLength="14.91" lengthAdjust="spacingAndGlyphs" fill="#222" stroke="#222" stroke-width="0.06" >GZMA</text>
<text x="260.30" y="499.02" font-size="6.2" textLength="13.77" lengthAdjust="spacingAndGlyphs" fill="#222" stroke="#222" stroke-width="0.06" >OAS3</text>
<text x="260.30" y="505.77" font-size="6.2" textLength="12.05" lengthAdjust="spacingAndGlyphs" fill="#222" stroke="#222" stroke-width="0.06" >IFIT3</text>
<text x="260.30" y="512.52" font-size="6.2" textLength="12.05" lengthAdjust="spacingAndGlyphs" fill="#222" stroke="#222" stroke-width="0.06" >IDO1</text>
<text x="260.30" y="519.27" font-size="6.2" textLength="13.20" lengthAdjust="spacingAndGlyphs" fill="#222" stroke="#222" stroke-width="0.06" >CCL2</text>
<text transform="translate(80.11,524.00) rotate(-90)" font-size="7.8" text-anchor="end" textLength="25.40" lengthAdjust="spacingAndGlyphs" fill="#111" stroke="#111" stroke-width="0.04" >Vehicle</text>
<text transform="translate(90.32,524.00) rotate(-90)" font-size="7.8" text-anchor="end" textLength="35.00" lengthAdjust="spacingAndGlyphs" fill="#111" stroke="#111" stroke-width="0.04" >Anti-PD-1</text>
<text transform="translate(100.53,524.00) rotate(-90)" font-size="7.8" text-anchor="end" textLength="39.50" lengthAdjust="spacingAndGlyphs" fill="#111" stroke="#111" stroke-width="0.04" >Anti-PD-L1</text>
<text transform="translate(110.74,524.00) rotate(-90)" font-size="7.8" text-anchor="end" textLength="41.00" lengthAdjust="spacingAndGlyphs" fill="#111" stroke="#111" stroke-width="0.04" >Avadomide</text>
<text transform="translate(120.95,524.00) rotate(-90)" font-size="7.8" text-anchor="end" textLength="85.00" lengthAdjust="spacingAndGlyphs" fill="#111" stroke="#111" stroke-width="0.04" >Avadomide +Anti-PD-1</text>
<text transform="translate(131.16,524.00) rotate(-90)" font-size="7.8" text-anchor="end" textLength="89.00" lengthAdjust="spacingAndGlyphs" fill="#111" stroke="#111" stroke-width="0.04" >Avadomide +Anti-PD-L1</text>
<text transform="translate(141.37,524.00) rotate(-90)" font-size="7.8" text-anchor="end" textLength="25.40" lengthAdjust="spacingAndGlyphs" fill="#111" stroke="#111" stroke-width="0.04" >Vehicle</text>
<text transform="translate(151.58,524.00) rotate(-90)" font-size="7.8" text-anchor="end" textLength="35.00" lengthAdjust="spacingAndGlyphs" fill="#111" stroke="#111" stroke-width="0.04" >Anti-PD-1</text>
<text transform="translate(161.79,524.00) rotate(-90)" font-size="7.8" text-anchor="end" textLength="39.50" lengthAdjust="spacingAndGlyphs" fill="#111" stroke="#111" stroke-width="0.04" >Anti-PD-L1</text>
<text transform="translate(172.01,524.00) rotate(-90)" font-size="7.8" text-anchor="end" textLength="41.00" lengthAdjust="spacingAndGlyphs" fill="#111" stroke="#111" stroke-width="0.04" >Avadomide</text>
<text transform="translate(182.22,524.00) rotate(-90)" font-size="7.8" text-anchor="end" textLength="86.60" lengthAdjust="spacingAndGlyphs" fill="#111" stroke="#111" stroke-width="0.04" >Avadomide + Anti-PD-1</text>
<text transform="translate(192.43,524.00) rotate(-90)" font-size="7.8" text-anchor="end" textLength="90.50" lengthAdjust="spacingAndGlyphs" fill="#111" stroke="#111" stroke-width="0.04" >Avadomide + Anti-PD-L1</text>
<text transform="translate(202.64,524.00) rotate(-90)" font-size="7.8" text-anchor="end" textLength="25.40" lengthAdjust="spacingAndGlyphs" fill="#111" stroke="#111" stroke-width="0.04" >Vehicle</text>
<text transform="translate(212.85,524.00) rotate(-90)" font-size="7.8" text-anchor="end" textLength="35.00" lengthAdjust="spacingAndGlyphs" fill="#111" stroke="#111" stroke-width="0.04" >Anti-PD-1</text>
<text transform="translate(223.06,524.00) rotate(-90)" font-size="7.8" text-anchor="end" textLength="39.50" lengthAdjust="spacingAndGlyphs" fill="#111" stroke="#111" stroke-width="0.04" >Anti-PD-L1</text>
<text transform="translate(233.27,524.00) rotate(-90)" font-size="7.8" text-anchor="end" textLength="41.00" lengthAdjust="spacingAndGlyphs" fill="#111" stroke="#111" stroke-width="0.04" >Avadomide</text>
<text transform="translate(243.48,524.00) rotate(-90)" font-size="7.8" text-anchor="end" textLength="85.00" lengthAdjust="spacingAndGlyphs" fill="#111" stroke="#111" stroke-width="0.04" >Avadomide +Anti-PD-1</text>
<text transform="translate(253.69,524.00) rotate(-90)" font-size="7.8" text-anchor="end" textLength="90.50" lengthAdjust="spacingAndGlyphs" fill="#111" stroke="#111" stroke-width="0.04" >Avadomide + Anti-PD-L1</text>
<line x1="73.5" y1="621.4" x2="132.7" y2="621.4" stroke="#222" stroke-width="1"/>
<line x1="138.1" y1="621.4" x2="196.8" y2="621.4" stroke="#222" stroke-width="1"/>
<line x1="199.5" y1="621.4" x2="257.9" y2="621.4" stroke="#222" stroke-width="1"/>
<text x="103.30" y="631.50" font-size="8.2" text-anchor="middle" textLength="40.40" lengthAdjust="spacingAndGlyphs" fill="#1a1a1a" stroke="#1a1a1a" stroke-width="0.04" >All patients</text>
<text x="167.70" y="631.50" font-size="8.2" text-anchor="middle" fill="#1a1a1a" stroke="#1a1a1a" stroke-width="0.04" >Good</text>
<text x="167.70" y="640.30" font-size="8.2" text-anchor="middle" textLength="36.00" lengthAdjust="spacingAndGlyphs" fill="#1a1a1a" stroke="#1a1a1a" stroke-width="0.04" >prognosis</text>
<text x="228.30" y="631.50" font-size="8.2" text-anchor="middle" fill="#1a1a1a" stroke="#1a1a1a" stroke-width="0.04" >Poor</text>
<text x="228.50" y="640.30" font-size="8.2" text-anchor="middle" textLength="35.50" lengthAdjust="spacingAndGlyphs" fill="#1a1a1a" stroke="#1a1a1a" stroke-width="0.04" >prognosis</text>
<path d="M19.00,420.39V511.32M19.00,420.39H56.00M19.00,511.32H41.40M56.00,370.54V470.25M56.00,370.54H60.20M56.00,470.25H63.50M60.20,344.56V396.52M60.20,344.56H64.00M60.20,396.52H66.20M64.00,321.29V367.82M64.00,321.29H63.90M64.00,367.82H65.20M63.90,307.68V334.90M63.90,307.68H65.50M63.90,334.90H71.60M65.50,292.28V323.09M65.50,292.28H66.80M65.50,323.09H66.40M66.80,281.73V302.83M66.80,281.73H67.40M66.80,302.83H67.60M67.40,275.82V287.63M67.40,275.82H68.00M67.40,287.63H71.60M68.00,270.75V280.88M68.00,270.75H69.50M68.00,280.88H71.60M69.50,267.38V274.13M69.50,267.38H71.60M69.50,274.13H71.60M67.60,297.76V307.89M67.60,297.76H69.40M67.60,307.89H71.60M69.40,294.39V301.14M69.40,294.39H71.60M69.40,301.14H71.60M66.40,318.02V328.15M66.40,318.02H68.00M66.40,328.15H71.60M68.00,314.64V321.40M68.00,314.64H71.60M68.00,321.40H71.60M65.20,360.23V375.42M65.20,360.23H67.30M65.20,375.42H71.60M67.30,351.78V368.67M67.30,351.78H68.30M67.30,368.67H71.60M68.30,345.03V358.54M68.30,345.03H69.40M68.30,358.54H69.40M69.40,341.66V348.41M69.40,341.66H71.60M69.40,348.41H71.60M69.40,355.16V361.91M69.40,355.16H71.60M69.40,361.91H71.60M66.20,390.61V402.43M66.20,390.61H67.10M66.20,402.43H71.60M67.10,385.55V395.68M67.10,385.55H69.40M67.10,395.68H71.60M69.40,382.17V388.92M69.40,382.17H71.60M69.40,388.92H71.60M63.50,456.19V484.30M63.50,456.19H65.10M63.50,484.30H65.10M65.10,449.17V463.20M65.10,449.17H67.20M65.10,463.20H71.60M67.20,441.89V456.45M67.20,441.89H67.60M67.20,456.45H71.60M67.60,434.08V449.70M67.60,434.08H68.00M67.60,449.70H71.60M68.00,425.22V442.94M68.00,425.22H68.60M68.00,442.94H71.60M68.60,417.62V432.82M68.60,417.62H69.00M68.60,432.82H69.60M69.00,412.56V422.69M69.00,412.56H69.60M69.00,422.69H71.60M69.60,409.18V415.93M69.60,409.18H71.60M69.60,415.93H71.60M69.60,429.44V436.19M69.60,429.44H71.60M69.60,436.19H71.60M65.10,478.40V490.21M65.10,478.40H67.20M65.10,490.21H71.60M67.20,473.33V483.46M67.20,473.33H68.50M67.20,483.46H71.60M68.50,469.96V476.71M68.50,469.96H71.60M68.50,476.71H71.60M41.40,505.41V517.22M41.40,505.41H56.30M41.40,517.22H71.60M56.30,500.34V510.47M56.30,500.34H64.20M56.30,510.47H71.60M64.20,496.97V503.72M64.20,496.97H71.60M64.20,503.72H71.60" fill="none" stroke="#3a3a3a" stroke-width="0.8"/>
<rect x="22.3" y="578.8" width="53.5" height="11.700000000000045" fill="url(#gB)"/>
<line x1="22.3" y1="590.8" x2="75.8" y2="590.8" stroke="#bbb" stroke-width="0.6"/>
<line x1="22.30" y1="590.5" x2="22.30" y2="594.3" stroke="#666" stroke-width="0.6"/>
<line x1="35.67" y1="590.5" x2="35.67" y2="594.3" stroke="#666" stroke-width="0.6"/>
<line x1="49.05" y1="590.5" x2="49.05" y2="594.3" stroke="#666" stroke-width="0.6"/>
<line x1="62.42" y1="590.5" x2="62.42" y2="594.3" stroke="#666" stroke-width="0.6"/>
<line x1="75.80" y1="590.5" x2="75.80" y2="594.3" stroke="#666" stroke-width="0.6"/>
<text x="49.05" y="575.80" font-size="8.6" text-anchor="middle" textLength="40.20" lengthAdjust="spacingAndGlyphs" fill="#222" stroke="#222" stroke-width="0.04" >Color code</text>
<text x="22.30" y="604.50" font-size="8.2" text-anchor="middle" fill="#111" stroke="#111" stroke-width="0.1" >-2</text>
<text x="35.67" y="604.50" font-size="8.2" text-anchor="middle" fill="#111" stroke="#111" stroke-width="0.1" >-1</text>
<text x="49.05" y="604.50" font-size="8.2" text-anchor="middle" fill="#111" stroke="#111" stroke-width="0.1" >0</text>
<text x="62.42" y="604.50" font-size="8.2" text-anchor="middle" fill="#111" stroke="#111" stroke-width="0.1" >1</text>
<text x="75.80" y="604.50" font-size="8.2" text-anchor="middle" fill="#111" stroke="#111" stroke-width="0.1" >2</text>
<text x="335.1" y="288.2" font-size="9.3" fill="#1a1a1a" stroke="#1a1a1a" stroke-width="0.04" textLength="177.3" lengthAdjust="spacingAndGlyphs">Healthy CD4<tspan font-size="7" dy="-3.4">+</tspan><tspan dy="3.4"> T cells vs CLL CD4</tspan><tspan font-size="7" dy="-3.4">+</tspan><tspan dy="3.4"> T cells</tspan></text>
<text x="362.80" y="299.70" font-size="9.3" textLength="120.70" lengthAdjust="spacingAndGlyphs" fill="#1a1a1a" stroke="#1a1a1a" stroke-width="0.04" >deregulated gene signature</text>
<text x="390.70" y="312.20" font-size="7.8" textLength="38.80" lengthAdjust="spacingAndGlyphs" fill="#1a1a1a" stroke="#1a1a1a" stroke-width="0.04" >p = 0.0487</text>
<line x1="345.5" y1="317.2" x2="345.5" y2="351.8" stroke="#111" stroke-width="1.2"/>
<line x1="342.6" y1="319.3" x2="345.5" y2="319.3" stroke="#111" stroke-width="1"/>
<line x1="342.6" y1="348.7" x2="345.5" y2="348.7" stroke="#111" stroke-width="1"/>
<text x="339.80" y="322.50" font-size="8.2" text-anchor="end" textLength="10.60" lengthAdjust="spacingAndGlyphs" fill="#111" stroke="#111" stroke-width="0.12" >1.8</text>
<text x="339.80" y="351.50" font-size="8.2" text-anchor="end" fill="#111" stroke="#111" stroke-width="0.12" >0</text>
<text transform="translate(323.30,353.60) rotate(-90)" font-size="9.6" textLength="39.00" lengthAdjust="spacingAndGlyphs" fill="#1a1a1a" stroke="#1a1a1a" stroke-width="0.12" >Enrichment</text>
<line x1="346.5" y1="333.1" x2="500.6" y2="333.1" stroke="#333" stroke-width="1.3" stroke-dasharray="3.2 2.2"/>
<path d="M351.2,320.2C352.73,320.70 357.58,322.23 360.4,323.2C363.22,324.17 365.53,324.97 368.1,326.0C370.67,327.03 373.23,328.35 375.8,329.4C378.37,330.45 380.93,331.47 383.5,332.3C386.07,333.13 388.65,333.73 391.2,334.4C393.75,335.07 396.25,335.75 398.8,336.3C401.35,336.85 403.93,337.30 406.5,337.7C409.07,338.10 411.87,338.38 414.2,338.7C416.53,339.02 418.17,339.35 420.5,339.6C422.83,339.85 425.57,340.27 428.2,340.2C430.83,340.13 433.58,339.75 436.3,339.2C439.02,338.65 441.77,337.65 444.5,336.9C447.23,336.15 449.98,335.33 452.7,334.7C455.42,334.07 458.08,333.58 460.8,333.1C463.52,332.62 466.27,332.15 469,331.8C471.73,331.45 474.47,331.17 477.2,331.0C479.93,330.83 482.35,330.73 485.4,330.8C488.45,330.87 493.82,331.30 495.5,331.4" fill="none" stroke="#b0002e" stroke-width="1.5"/>
<rect x="351.6" y="366.8" width="35.3" height="14.1" fill="#f4bfcb"/>
<rect x="386.9" y="366.8" width="60.9" height="14.1" fill="#d2d2d2"/>
<rect x="447.8" y="366.8" width="48.5" height="14.1" fill="#a9d5e3"/>
<rect x="351.82" y="352.0" width="1.25" height="28.9" fill="#000" fill-opacity="0.760"/>
<rect x="353.27" y="352.0" width="1.25" height="28.9" fill="#000" fill-opacity="0.380"/>
<rect x="356.68" y="352.0" width="1.25" height="28.9" fill="#000" fill-opacity="0.760"/>
<rect x="358.12" y="352.0" width="1.25" height="28.9" fill="#000" fill-opacity="0.253"/>
<rect x="359.80" y="352.0" width="1.20" height="28.9" fill="#000" fill-opacity="0.760"/>
<rect x="361.30" y="352.0" width="1.0" height="28.9" fill="#000" fill-opacity="0.443"/>
<rect x="362.30" y="352.0" width="1.0" height="28.9" fill="#000" fill-opacity="0.443"/>
<rect x="364.92" y="352.0" width="1.25" height="28.9" fill="#000" fill-opacity="0.443"/>
<rect x="367.90" y="352.0" width="1.0" height="28.9" fill="#000" fill-opacity="0.570"/>
<rect x="368.90" y="352.0" width="1.0" height="28.9" fill="#000" fill-opacity="0.570"/>
<rect x="370.88" y="352.0" width="1.25" height="28.9" fill="#000" fill-opacity="0.443"/>
<rect x="373.77" y="352.0" width="1.0" height="28.9" fill="#000" fill-opacity="0.507"/>
<rect x="374.93" y="352.0" width="1.0" height="28.9" fill="#000" fill-opacity="0.507"/>
<rect x="378.98" y="352.0" width="1.25" height="28.9" fill="#000" fill-opacity="0.760"/>
<rect x="380.60" y="352.0" width="0.90" height="28.9" fill="#000" fill-opacity="0.190"/>
<rect x="381.80" y="352.0" width="1.10" height="28.9" fill="#000" fill-opacity="0.380"/>
<rect x="384.90" y="352.0" width="1.20" height="28.9" fill="#000" fill-opacity="0.507"/>
<rect x="386.77" y="352.0" width="1.25" height="28.9" fill="#000" fill-opacity="0.317"/>
<rect x="389.80" y="352.0" width="1.0" height="28.9" fill="#000" fill-opacity="0.380"/>
<rect x="390.80" y="352.0" width="1.0" height="28.9" fill="#000" fill-opacity="0.380"/>
<rect x="393.68" y="352.0" width="1.25" height="28.9" fill="#000" fill-opacity="0.507"/>
<rect x="395.90" y="352.0" width="1.10" height="28.9" fill="#000" fill-opacity="0.253"/>
<rect x="397.88" y="352.0" width="1.25" height="28.9" fill="#000" fill-opacity="0.380"/>
<rect x="400.80" y="352.0" width="1.0" height="28.9" fill="#000" fill-opacity="0.175"/>
<rect x="401.80" y="352.0" width="1.0" height="28.9" fill="#000" fill-opacity="0.175"/>
<rect x="402.93" y="352.0" width="1.25" height="28.9" fill="#000" fill-opacity="0.380"/>
<rect x="404.57" y="352.0" width="1.0" height="28.9" fill="#000" fill-opacity="0.190"/>
<rect x="406.12" y="352.0" width="1.0" height="28.9" fill="#000" fill-opacity="0.190"/>
<rect x="407.70" y="352.0" width="1.20" height="28.9" fill="#000" fill-opacity="0.697"/>
<rect x="410.43" y="352.0" width="1.25" height="28.9" fill="#000" fill-opacity="0.127"/>
<rect x="418.02" y="352.0" width="1.0" height="28.9" fill="#000" fill-opacity="0.190"/>
<rect x="419.48" y="352.0" width="1.0" height="28.9" fill="#000" fill-opacity="0.190"/>
<rect x="421.98" y="352.0" width="1.25" height="28.9" fill="#000" fill-opacity="0.507"/>
<rect x="425.02" y="352.0" width="1.0" height="28.9" fill="#000" fill-opacity="0.253"/>
<rect x="426.08" y="352.0" width="1.0" height="28.9" fill="#000" fill-opacity="0.253"/>
<rect x="428.80" y="352.0" width="1.20" height="28.9" fill="#000" fill-opacity="0.633"/>
<rect x="430.65" y="352.0" width="1.0" height="28.9" fill="#000" fill-opacity="0.190"/>
<rect x="431.95" y="352.0" width="1.0" height="28.9" fill="#000" fill-opacity="0.190"/>
<rect x="436.38" y="352.0" width="1.0" height="28.9" fill="#000" fill-opacity="0.253"/>
<rect x="437.53" y="352.0" width="1.0" height="28.9" fill="#000" fill-opacity="0.253"/>
<rect x="438.83" y="352.0" width="1.25" height="28.9" fill="#000" fill-opacity="0.190"/>
<rect x="440.90" y="352.0" width="0.90" height="28.9" fill="#000" fill-opacity="0.380"/>
<rect x="443.80" y="352.0" width="1.20" height="28.9" fill="#000" fill-opacity="0.443"/>
<rect x="446.02" y="352.0" width="1.0" height="28.9" fill="#000" fill-opacity="0.294"/>
<rect x="447.48" y="352.0" width="1.0" height="28.9" fill="#000" fill-opacity="0.294"/>
<rect x="447.40" y="352.0" width="0.80" height="28.9" fill="#000" fill-opacity="0.354"/>
<rect x="450.52" y="352.0" width="1.25" height="28.9" fill="#000" fill-opacity="0.507"/>
<rect x="453.28" y="352.0" width="1.0" height="28.9" fill="#000" fill-opacity="0.253"/>
<rect x="454.85" y="352.0" width="1.0" height="28.9" fill="#000" fill-opacity="0.253"/>
<rect x="456.42" y="352.0" width="1.0" height="28.9" fill="#000" fill-opacity="0.253"/>
<rect x="456.00" y="352.0" width="0.80" height="28.9" fill="#000" fill-opacity="0.354"/>
<rect x="460.93" y="352.0" width="1.25" height="28.9" fill="#000" fill-opacity="0.697"/>
<rect x="462.30" y="352.0" width="0.90" height="28.9" fill="#000" fill-opacity="0.190"/>
<rect x="464.30" y="352.0" width="1.0" height="28.9" fill="#000" fill-opacity="0.443"/>
<rect x="465.90" y="352.0" width="1.0" height="28.9" fill="#000" fill-opacity="0.443"/>
<rect x="467.80" y="352.0" width="1.10" height="28.9" fill="#000" fill-opacity="0.190"/>
<rect x="471.17" y="352.0" width="1.0" height="28.9" fill="#000" fill-opacity="0.615"/>
<rect x="472.50" y="352.0" width="1.0" height="28.9" fill="#000" fill-opacity="0.615"/>
<rect x="473.83" y="352.0" width="1.0" height="28.9" fill="#000" fill-opacity="0.615"/>
<rect x="475.47" y="352.0" width="1.0" height="28.9" fill="#000" fill-opacity="0.190"/>
<rect x="476.80" y="352.0" width="1.0" height="28.9" fill="#000" fill-opacity="0.190"/>
<rect x="478.13" y="352.0" width="1.0" height="28.9" fill="#000" fill-opacity="0.190"/>
<rect x="478.70" y="352.0" width="0.90" height="28.9" fill="#000" fill-opacity="0.354"/>
<rect x="480.07" y="352.0" width="1.0" height="28.9" fill="#000" fill-opacity="0.127"/>
<rect x="481.40" y="352.0" width="1.0" height="28.9" fill="#000" fill-opacity="0.127"/>
<rect x="482.73" y="352.0" width="1.0" height="28.9" fill="#000" fill-opacity="0.127"/>
<rect x="485.12" y="352.0" width="1.0" height="28.9" fill="#000" fill-opacity="0.443"/>
<rect x="486.57" y="352.0" width="1.0" height="28.9" fill="#000" fill-opacity="0.443"/>
<rect x="491.20" y="352.0" width="1.0" height="28.9" fill="#000" fill-opacity="0.533"/>
<rect x="492.60" y="352.0" width="1.0" height="28.9" fill="#000" fill-opacity="0.533"/>
<rect x="494.82" y="352.0" width="1.25" height="28.9" fill="#000" fill-opacity="0.380"/>
<line x1="348.5" y1="382.9" x2="498.7" y2="382.9" stroke="#111" stroke-width="1.4"/>
<line x1="351.50" y1="382.9" x2="351.50" y2="385.7" stroke="#111" stroke-width="1"/>
<text transform="translate(354.60,389.20) rotate(-90)" font-size="8.6" text-anchor="end" textLength="15.40" lengthAdjust="spacingAndGlyphs" fill="#111" stroke="#111" stroke-width="0.08" >26.0</text>
<line x1="365.91" y1="382.9" x2="365.91" y2="385.7" stroke="#111" stroke-width="1"/>
<text transform="translate(369.01,389.20) rotate(-90)" font-size="8.6" text-anchor="end" textLength="11.00" lengthAdjust="spacingAndGlyphs" fill="#111" stroke="#111" stroke-width="0.08" >3.7</text>
<line x1="380.32" y1="382.9" x2="380.32" y2="385.7" stroke="#111" stroke-width="1"/>
<text transform="translate(383.42,389.20) rotate(-90)" font-size="8.6" text-anchor="end" textLength="11.00" lengthAdjust="spacingAndGlyphs" fill="#111" stroke="#111" stroke-width="0.08" >1.9</text>
<line x1="394.73" y1="382.9" x2="394.73" y2="385.7" stroke="#111" stroke-width="1"/>
<text transform="translate(397.83,389.20) rotate(-90)" font-size="8.6" text-anchor="end" textLength="11.00" lengthAdjust="spacingAndGlyphs" fill="#111" stroke="#111" stroke-width="0.08" >0.9</text>
<line x1="409.14" y1="382.9" x2="409.14" y2="385.7" stroke="#111" stroke-width="1"/>
<text transform="translate(412.24,389.20) rotate(-90)" font-size="8.6" text-anchor="end" textLength="11.00" lengthAdjust="spacingAndGlyphs" fill="#111" stroke="#111" stroke-width="0.08" >0.2</text>
<line x1="423.55" y1="382.9" x2="423.55" y2="385.7" stroke="#111" stroke-width="1"/>
<text transform="translate(426.65,389.20) rotate(-90)" font-size="8.6" text-anchor="end" textLength="15.62" lengthAdjust="spacingAndGlyphs" fill="#111" stroke="#111" stroke-width="0.08" >−0.4</text>
<line x1="437.96" y1="382.9" x2="437.96" y2="385.7" stroke="#111" stroke-width="1"/>
<text transform="translate(441.06,389.20) rotate(-90)" font-size="8.6" text-anchor="end" textLength="15.62" lengthAdjust="spacingAndGlyphs" fill="#111" stroke="#111" stroke-width="0.08" >−1.0</text>
<line x1="452.37" y1="382.9" x2="452.37" y2="385.7" stroke="#111" stroke-width="1"/>
<text transform="translate(455.47,389.20) rotate(-90)" font-size="8.6" text-anchor="end" textLength="15.62" lengthAdjust="spacingAndGlyphs" fill="#111" stroke="#111" stroke-width="0.08" >−1.7</text>
<line x1="466.78" y1="382.9" x2="466.78" y2="385.7" stroke="#111" stroke-width="1"/>
<text transform="translate(469.88,389.20) rotate(-90)" font-size="8.6" text-anchor="end" textLength="15.62" lengthAdjust="spacingAndGlyphs" fill="#111" stroke="#111" stroke-width="0.08" >−2.4</text>
<line x1="481.19" y1="382.9" x2="481.19" y2="385.7" stroke="#111" stroke-width="1"/>
<text transform="translate(484.29,389.20) rotate(-90)" font-size="8.6" text-anchor="end" textLength="15.62" lengthAdjust="spacingAndGlyphs" fill="#111" stroke="#111" stroke-width="0.08" >−3.7</text>
<line x1="495.60" y1="382.9" x2="495.60" y2="385.7" stroke="#111" stroke-width="1"/>
<text transform="translate(498.70,389.20) rotate(-90)" font-size="8.6" text-anchor="end" textLength="20.02" lengthAdjust="spacingAndGlyphs" fill="#111" stroke="#111" stroke-width="0.08" >−18.0</text>
<text x="423.80" y="420.90" font-size="11.0" text-anchor="middle" textLength="25.60" lengthAdjust="spacingAndGlyphs" fill="#1a1a1a" stroke="#1a1a1a" stroke-width="0.08" >Statistic</text>
<text transform="translate(345.80,372.00) rotate(-90)" font-size="7.8" textLength="10.70" lengthAdjust="spacingAndGlyphs" fill="#1a1a1a" stroke="#1a1a1a" stroke-width="0.04" >Up</text>
<text transform="translate(505.60,377.00) rotate(-90)" font-size="8.4" textLength="21.10" lengthAdjust="spacingAndGlyphs" fill="#1a1a1a" stroke="#1a1a1a" stroke-width="0.04" >Down</text>
<rect x="0" y="0" width="520" height="1.2" fill="#000"/>
<rect x="0" y="0" width="1.2" height="650" fill="#000"/>
<rect x="518.6" y="0" width="1.4" height="650" fill="#000"/>
<rect x="0" y="648.6" width="520" height="1.4" fill="#000"/>
</svg>
</body></html>
